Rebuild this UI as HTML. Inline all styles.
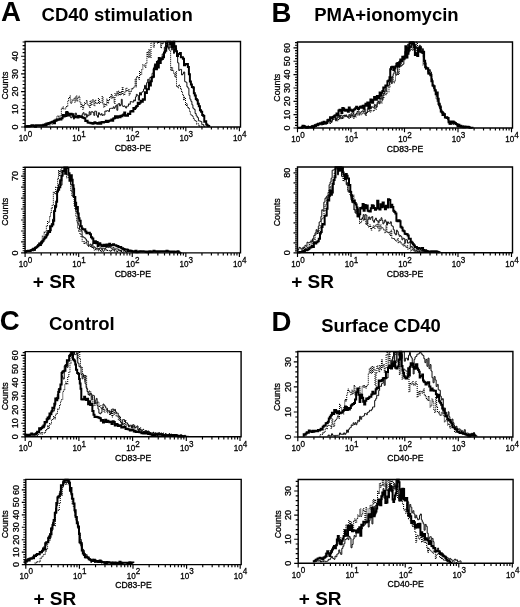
<!DOCTYPE html>
<html><head><meta charset="utf-8"><style>
html,body{margin:0;padding:0;background:#fff;width:520px;height:607px;overflow:hidden}
svg{display:block;will-change:transform;font-family:"Liberation Sans", sans-serif;fill:#000}
text{fill:#000} .s{stroke:#000;stroke-width:0.3px}
</style></head><body>
<svg width="520" height="607" viewBox="0 0 520 607"><rect width="520" height="607" fill="#fff"/><g><path d="M49.5 125H50.5V123.52H51.5V123.88H52.5V120.82H53.5V123.06H54.5V119.33H55.65V120.27H56.8V116.37H57.95V116.11H59.1V117.01H60.23V115.89H61.37V108.12H62.5V107.08H63.38V108.65H64.25V109.08H65.12V107.8H66V106.42H66.88V106.22H67.75V100.32H68.62V97.43H69.5V96.07H70.38V103.13H71.25V101.89H72.12V99.66H73V100.16H73.93V98.04H74.87V102.2H75.8V95.99H76.77V100.85H77.73V97.27H78.7V96.31H79.85V103H81V106.98H81.88V104.29H82.75V109.22H83.62V104.81H84.5V102.71H85.45V103.43H86.4V100.49H87.32V105.09H88.24V105.06H89.16V107.37H90.08V100.77H91V105.3H91.94V101.02H92.88V99.65H93.82V105.6H94.76V100.36H95.7V102.81H96.62V103.17H97.54V103.15H98.46V98.53H99.38V103.59H100.3V102.33H101.22V102.35H102.14V96.51H103.06V105.01H103.98V107.12H104.9V103.89H105.82V105.28H106.74V99.17H107.66V103.11H108.58V99.64H109.5V96.66H110.42V98.02H111.34V94.47H112.26V98.05H113.18V97.11H114.1V103.39H114.97V93.55H115.85V95.76H116.72V92.11H117.6V94.94H118.52V91.34H119.44V95.17H120.36V91.87H121.28V94.35H122.2V87.87H123.08V93.34H123.95V94.95H124.83V92.31H125.7V88.39H126.83V91.01H127.97V89.54H129.1V95.02H130.23V91.14H131.37V88.43H132.5V88.95H133.38V86.95H134.25V86.97H135.12V78.81H136V86.82H136.5V76.51H137.5V77.77H138.5V79.18H139.5V71.53H140.6V74.61H141.7V69.65H142.8V64.7H143.9V64.97H144.9V67.48H145.9V63.48H146.9V52.07H147.9V57.41H148.9V49.41H149.9V57.38H151V41.8H152.1V41.8H153.3V47.24H154.5V42.18H155.5V41.8H156.5V41.8H157.5V43.21H158.5V41.8H159.5V41.95H160.5V47.66H161.5V41.8H162.5V43.6H163.5V41.8H164.5V41.8H165.5V50.6H166.5V42.73H167.5V44.16H168.35V47.46H169.2V50.57H170.6V70.38H171.6V67.49H172.6V70.35H173.6V72.97H174.57V76.98H175.53V71.77H176.5V86.2H177.5V87.8H178.5V85.09H179.5V86.49H180.5V88.81H181.5V91.5H182.5V95.37H183.5V99.82H184.5V97.35H185.5V105.43H186.5V103.69H187.5V107.58H188.5V108.86H189.47V111.47H190.43V113.96H191.4V115.91H192.4V115.85H193.4V118.41H194.4V119.87H195.5V121.38H196.6V123.87H197.7V123.71H198.8V126.13H199.8V126.22H200.8V126.25H201.8V127" fill="none" stroke="#000" stroke-width="1.05" stroke-dasharray="1 1"/><path d="M24.5 126.5H25.5V126.62H26.5V126.26H27.5V126.15H28.5V126.12H29.5V126.54H30.5V126.49H31.5V125.78H32.5V125.63H33.5V126.22H34.5V126.6H35.5V125.7H36.5V125.93H37.5V125.61H38.5V125.72H39.5V125.98H40.5V125.12H41.5V125.42H42.5V125.44H43.5V125.15H44.5V123.64H45.5V124.65H46.5V125.06H47.5V124.08H48.5V124.2H49.5V122.66H50.5V122.32H51.5V121.71H52.5V122.54H53.5V120.03H54.5V120.39H55.5V121.19H56.5V119.05H57.5V120.63H58.5V120.23H59.5V119.02H60.55V119.64H61.6V117.86H62.65V115.29H63.7V115.77H64.58V115.18H65.45V112.28H66.33V115.95H67.2V111.59H68.08V114.25H68.95V113.73H69.83V116.29H70.7V117.92H71.62V116.79H72.54V114.23H73.46V119.09H74.38V115.72H75.3V113.08H76.35V115.14H77.4V117.29H78.45V115.34H79.5V117.1H80.42V117.08H81.34V115.76H82.26V113.83H83.18V112.62H84.1V115.09H85.25V113.84H86.4V117.16H87.32V114.87H88.24V115.71H89.16V111.72H90.08V114.68H91V111.86H91.94V111.75H92.88V112.54H93.82V115.39H94.76V111.12H95.7V111.36H96.62V115.45H97.54V117.22H98.46V112.68H99.38V114.27H100.3V115.03H101.22V113.69H102.14V115.49H103.06V114.81H103.98V115.06H104.9V111H105.82V111.3H106.74V110.57H107.66V110.69H108.58V111.55H109.5V108.67H110.42V108.36H111.34V108.25H112.26V108.53H113.18V106.87H114.1V108.29H115.02V106.72H115.94V105.08H116.86V110.26H117.78V104.14H118.7V103.47H119.58V105.96H120.45V104.58H121.33V99.31H122.2V105.86H123.08V106.54H123.95V105.89H124.83V106.73H125.7V108.05H126.62V106.25H127.54V106.2H128.46V103.89H129.38V104.29H130.3V101.55H131.43V101.84H132.57V102.14H133.7V99.93H134.57V100.91H135.45V96.96H136.32V94.36H137.2V95.29H138.35V100.15H139.5V92.54H140.5V95.12H141.5V92.3H142.5V91.5H143.5V89.08H144.5V85.32H145.5V89.16H146.6V82.68H147.7V79.31H148.8V82.08H149.9V77.42H151V77.27H152.1V73.24H153.2V68.83H154.3V65.5H155.3V66.16H156.3V64.17H157.3V60.56H158.3V62.77H159.3V59.14H160.3V60.2H161.27V57.19H162.23V54H163.2V53.68H164.35V47.12H165.5V41.8H166.43V41.8H167.35V46.8H168.27V48.91H169.2V42.55H170.27V41.8H171.35V49.92H172.43V41.8H173.5V53.38H174.5V49.09H175.5V45.46H176.5V53.83H177.65V62.87H178.8V70.52H179.73V69.43H180.65V69.4H181.57V74.96H182.5V73.94H183.6V71.99H184.7V81.67H185.8V82.25H186.9V86.76H187.9V88.14H188.9V95.35H189.9V99.16H190.9V101.36H191.9V104.8H192.9V108.24H194V109.38H195.1V113.52H196.2V115.97H197.3V117.59H198.43V120.8H199.55V121.05H200.68V121.64H201.8V124.53H202.77V124.54H203.73V126.21H204.7V127" fill="none" stroke="#111" stroke-width="1" stroke-linejoin="round"/><path d="M24.5 126.5H25.42V126.47H26.34V126.24H27.26V126.04H28.18V126.49H29.1V126.35H30.25V126.06H31.4V125.23H32.27V125.29H33.15V125.45H34.02V126.08H34.9V126.64H36.03V125.22H37.17V125.39H38.3V125.14H39.3V125.57H40.3V125.48H41.3V125.22H42.3V125.75H43.3V124.83H44.3V124.85H45.3V125.62H46.4V123.59H47.5V124.15H48.44V123.07H49.38V123.16H50.32V122.6H51.26V122.23H52.2V121.7H53.12V121.95H54.04V123.25H54.96V120.84H55.88V120.61H56.8V119.48H57.67V119.53H58.55V119.62H59.42V118.7H60.3V119.57H61.43V118.23H62.57V114.88H63.7V116.53H64.58V115.26H65.45V115.92H66.33V111.97H67.2V113.18H68.08V115.59H68.95V113.71H69.83V114.66H70.7V113.77H71.62V114.43H72.54V114.29H73.46V116.63H74.38V117.28H75.3V116.38H76.4V116.78H77.5V117.57H78.5V116.06H79.5V116.81H80.5V116.38H81.5V116.89H82.25V117.43H83V117.76H84.15V118.24H85.3V121.01H86.45V120.74H87.6V122.39H88.58V122.85H89.55V122.69H90.53V123.26H91.51V123.06H92.48V123.78H93.46V123.37H94.44V122.33H95.42V122.9H96.39V123.19H97.37V123.76H98.35V123.06H99.32V122.6H100.3V123.84H101.22V122.37H102.14V121.9H103.06V122.51H103.98V122.05H104.9V121.9H105.82V120.69H106.74V121.94H107.66V121.81H108.58V121.1H109.5V120.43H110.42V120.47H111.34V119.54H112.26V120.67H113.18V118.6H114.1V118.17H115.02V116.37H115.94V117.71H116.86V117.82H117.78V116.2H118.7V116.38H119.62V117.31H120.54V115.83H121.46V116.28H122.38V115.29H123.3V114.59H124.24V112.58H125.18V115.68H126.12V115.33H127.06V115.87H128V113.81H129.12V114.08H130.25V111.45H131.38V110.97H132.5V111.42H133.38V107.96H134.25V108.94H135.12V107.81H136V106.54H136.88V106.03H137.75V102.77H138.62V103.88H139.5V102.67H140.6V100.73H141.7V101.85H142.8V99.14H143.9V99.82H144.9V92.31H145.9V92.91H146.9V89.35H147.9V89.18H148.9V82.98H149.9V85.47H150.87V81.36H151.83V77.13H152.8V76.65H153.95V68.5H155.1V64.39H156.03V69.15H156.95V62.05H157.88V67.49H158.8V58.1H159.77V62.97H160.73V59.61H161.7V58.9H162.85V57.25H164V52.55H165.1V50.84H166.2V46.57H167.2V41.8H168.2V41.8H169.2V41.8H170.27V44.1H171.35V46.93H172.43V42.85H173.5V41.8H174.3V46.57H175.1V49.16H176.07V51.29H177.03V55.94H178V54.12H178.95V53.88H179.9V53.08H180.85V57.19H181.8V57.19H182.9V58.74H184V65.22H185.1V64.28H186.2V63.9H186.9V63.93H187.9V66.95H188.9V74.26H189.9V81.54H190.9V84.46H191.9V86.88H192.9V87.54H193.87V93.31H194.83V95.59H195.8V99.08H196.8V100.29H197.8V103.83H198.8V106.15H199.93V110.25H201.05V111.85H202.18V115.12H203.3V115.96H204.27V121.67H205.23V121.31H206.2V124.49H207.2V125.51H208.2V126.08H209.2V127" fill="none" stroke="#000" stroke-width="2" stroke-linejoin="miter"/><path d="M25.1 127 V41.5 H240.5 V127 Z" fill="none" stroke="#000" stroke-width="1.4"/><path d="M25.1 127v4.2 M41.23 127v2.6 M50.66 127v2.6 M57.36 127v2.6 M62.55 127v2.6 M66.79 127v2.6 M70.38 127v2.6 M73.48 127v2.6 M76.22 127v2.6 M78.68 127v4.2 M94.8 127v2.6 M104.24 127v2.6 M110.93 127v2.6 M116.12 127v2.6 M120.36 127v2.6 M123.95 127v2.6 M127.06 127v2.6 M129.8 127v2.6 M132.25 127v4.2 M148.38 127v2.6 M157.81 127v2.6 M164.51 127v2.6 M169.7 127v2.6 M173.94 127v2.6 M177.53 127v2.6 M180.63 127v2.6 M183.37 127v2.6 M185.83 127v4.2 M201.95 127v2.6 M211.39 127v2.6 M218.08 127v2.6 M223.27 127v2.6 M227.51 127v2.6 M231.1 127v2.6 M234.21 127v2.6 M236.95 127v2.6 M239.4 127v4.2 M25.1 127h-4.0 M25.1 123.46h-2.5 M25.1 119.92h-2.5 M25.1 116.38h-2.5 M25.1 112.84h-2.5 M25.1 109.3h-4.0 M25.1 105.76h-2.5 M25.1 102.22h-2.5 M25.1 98.68h-2.5 M25.1 95.14h-2.5 M25.1 91.6h-4.0 M25.1 88.06h-2.5 M25.1 84.52h-2.5 M25.1 80.98h-2.5 M25.1 77.44h-2.5 M25.1 73.9h-4.0 M25.1 70.36h-2.5 M25.1 66.82h-2.5 M25.1 63.28h-2.5 M25.1 59.74h-2.5 M25.1 56.2h-4.0 M25.1 52.66h-2.5 M25.1 49.12h-2.5 M25.1 45.58h-2.5 M25.1 42.04h-2.5" stroke="#000" stroke-width="1.15"/><text transform="translate(25.5 141.3) scale(0.87 1)" text-anchor="middle" font-size="9.3" class="s">10<tspan dy="-4.6">0</tspan></text><text transform="translate(79.08 141.3) scale(0.87 1)" text-anchor="middle" font-size="9.3" class="s">10<tspan dy="-4.6">1</tspan></text><text transform="translate(132.65 141.3) scale(0.87 1)" text-anchor="middle" font-size="9.3" class="s">10<tspan dy="-4.6">2</tspan></text><text transform="translate(186.23 141.3) scale(0.87 1)" text-anchor="middle" font-size="9.3" class="s">10<tspan dy="-4.6">3</tspan></text><text transform="translate(239.8 141.3) scale(0.87 1)" text-anchor="middle" font-size="9.3" class="s">10<tspan dy="-4.6">4</tspan></text><text x="132.8" y="150.8" text-anchor="middle" font-size="8.6" class="s">CD83-PE</text><text transform="translate(18 127) rotate(-90)" text-anchor="middle" font-size="9" class="s">0</text><text transform="translate(18 109.3) rotate(-90)" text-anchor="middle" font-size="9" class="s">10</text><text transform="translate(18 91.6) rotate(-90)" text-anchor="middle" font-size="9" class="s">20</text><text transform="translate(18 73.9) rotate(-90)" text-anchor="middle" font-size="9" class="s">30</text><text transform="translate(18 56.2) rotate(-90)" text-anchor="middle" font-size="9" class="s">40</text><text transform="translate(7.6 85.6) rotate(-90)" text-anchor="middle" font-size="8.8" class="s">Counts</text></g><g><path d="M29.5 251.5H30.5V249.9H31.5V250.72H32.5V250.78H33.5V250.12H34.5V250.18H35.5V248.43H36.5V247.69H37.5V244.78H38.5V245.99H39.5V243.61H40.42V242.61H41.34V241.08H42.26V236.31H43.18V236.39H44.1V232.37H45.23V231.87H46.37V225.81H47.5V221.57H48.7V222.29H49.6V216.65H50.5V212.48H51.35V207.94H52.2V205.43H53.35V192.39H54.5V193.6H55.65V187.26H56.8V187.43H57.65V178.36H58.5V170.41H59.25V176H60V170.03H60.88V172.61H61.75V167.6H62.62V167.6H63.5V167.6H64.5V167.6H65.5V169.79H66.5V177.78H67.5V177.26H68.5V174.18H69.6V177.25H70.7V190.42H71.8V195.37H72.95V196.23H74.1V205.06H74.95V209.86H75.8V216.65H76.65V222.16H77.5V227.74H78.7V231.23H79.9V233.43H81.03V236.4H82.17V241.26H83.3V241.62H84.1V243.92H85.02V242.97H85.94V242.64H86.86V245.15H87.78V245.83H88.7V246.48H89.7V246.59H90.7V247.11H91.7V246.8H92.7V248.36H93.7V250.06H94.7V249.35H95.7V249.55H96.67V249.81H97.64V249.01H98.61V250.74H99.59V250.58H100.56V250.89H101.53V251.21H102.5V250.12H103.5V251.17H104.5V250.23H105.5V249.91H106.5V249.74H107.5V250.39H108.5V250.7H109.5V251.26H110.5V250.32H111.5V250.71H112.5V249.41H113.5V250.57H114.5V250.89H115.5V251.14H116.5V251.65H117.5V251.32H118.5V250.66H119.5V250.46H120.5V251.03H121.5V252.19H122.5V252.28H123.5V250.2H124.5V250.17H125.5V251.5H126.5V252.17H127.5V251.33H128.5V251.15H129.5V251.17H130.5V251.27H131.5V251.39H132.5V251.85H133.5V251.98H134.5V251.62H135.5V251.75H136.5V251.75H137.5V252.54H138.5V251.87H139.5V252" fill="none" stroke="#000" stroke-width="1.05" stroke-dasharray="1 1"/><path d="M24.5 252H25.5V252.6H26.5V251.08H27.5V251.19H28.5V251.37H29.5V250.5H30.5V250.78H31.5V250.21H32.5V249.52H33.5V249.6H34.5V249.92H35.5V248.07H36.5V246.73H37.5V245.68H38.5V244.92H39.5V243.25H40.5V241.58H41.5V243.08H42.5V241.09H43.5V239.4H44.38V238.89H45.25V238.43H46.12V237.01H47V235.51H48V231.46H49V230.69H50V230.99H51.25V223.62H52.5V219.23H53.5V211.48H54.5V205.83H55.5V207.93H56.5V199.78H57.5V188.36H58.5V184.33H59.75V180.41H61V185.17H62V175.56H63V170.37H64.25V170.89H65.5V167.6H66.5V174.59H67.5V175.17H68.5V174.45H69.5V179.29H70.5V184.28H71.5V184.91H72.25V192.33H73V197.25H73.75V196.87H74.5V206.27H75.25V204.38H76V211.7H77V213.58H78V223.63H78.75V225.5H79.5V229.76H80.38V229.73H81.25V231.13H82.12V236.31H83V237.03H84.13V237.78H85.27V239.07H86.4V241.24H87.32V241.01H88.24V245.34H89.16V245.21H90.08V244.12H91V245.93H91.97V244.16H92.93V247.19H93.9V246.83H94.87V247.79H95.83V248.57H96.8V247.91H97.75V248.63H98.7V249.49H99.65V247.93H100.6V248.23H101.55V249.6H102.5V248.39H103.47V248.32H104.43V249.38H105.4V247.86H106.37V247.46H107.33V246.48H108.3V247.57H109.27V246.44H110.23V247.66H111.2V248.27H112.17V248.14H113.13V247.58H114.1V250.03H115.14V248.89H116.17V248.91H117.21V248.98H118.25V249.58H119.28V250.7H120.32V250.99H121.35V249.86H122.39V249.83H123.43V249.82H124.46V251.2H125.5V251.45H126.5V251.62H127.5V251.18H128.5V250.37H129.5V251.2H130.5V251.02H131.5V250.47H132.5V251.74H133.5V251.36H134.5V251.76H135.5V251.34H136.5V251.46H137.5V251.2H138.5V250.94H139.5V251.18H140.5V251.13H141.5V252.06H142.5V251.81H143.5V251.29H144.5V251.55H145.5V251.78H146.5V251.21H147.5V251.69H148.5V251.84H149.5V251.58H150.5V251.79H151.5V251.76H152.5V251.99H153.5V251.33H154.5V251.38H155.5V251.68H156.5V252.06H157.5V252.01H158.5V251.78H159.5V252" fill="none" stroke="#111" stroke-width="1" stroke-linejoin="round"/><path d="M24.5 252H25.7V251.16H26.85V250.91H28V250.75H29.13V251.1H30.27V250.41H31.4V250.07H32.27V249.51H33.15V248.87H34.02V249.85H34.9V247.67H36.03V247.18H37.17V246.16H38.3V245.27H39.17V243.54H40.05V245.08H40.92V243.27H41.8V241.78H42.67V240.77H43.55V239.28H44.42V237.4H45.3V237.25H46.27V234.91H47.23V233.6H48.2V230.99H49.13V231.97H50.07V226.34H51V226.34H52.15V224.47H53.3V220.68H54.2V211.08H55.1V206.06H56.2V201.87H57.1V191.4H58V189.64H59.15V187.14H60.3V180.33H61.4V175.72H62.5V171.05H63.4V170.88H64.3V167.6H65.15V173.87H66V167.6H67.2V168.11H68.35V173.32H69.5V180.75H70.65V175.23H71.8V179.73H72.65V185.22H73.5V188.78H74.1V197.01H75.3V202.71H76.15V208.87H77V207.03H77.85V213.52H78.7V218.18H79.5V220.72H80.65V226.17H81.8V228.5H82.67V229.24H83.55V229.44H84.42V229.23H85.3V231.43H86.43V233.14H87.57V232.66H88.7V232.64H89.85V234.28H91V237.26H92.15V238.42H93.3V242.89H94.17V241.62H95.05V241.37H95.92V243.23H96.8V242.07H97.67V245.93H98.55V243.9H99.42V243.14H100.3V244.73H101.43V246.14H102.57V245.4H103.7V244.87H104.62V245.88H105.54V246.14H106.46V244.62H107.38V245.16H108.3V245.67H109.24V243.82H110.18V245.87H111.12V245.15H112.06V245.06H113V244.33H114.12V245.37H115.25V245.34H116.38V246.22H117.5V245.94H118.44V247.01H119.38V247.24H120.32V246.89H121.26V248.14H122.2V248.21H123.17V248.98H124.13V249.2H125.1V249.43H126.07V249.46H127.03V249.84H128V250.93H129.12V250.62H130.25V250.66H131.38V251.42H132.5V251.28H133.5V251.76H134.5V251.72H135.5V250.75H136.5V252.3H137.5V252.08H138.5V251.68H139.5V251.4H140.5V251.32H141.5V251.19H142.5V251.26H143.5V251.62H144.5V251.6H145.5V251.89H146.5V251.76H147.5V252.15H148.5V251.38H149.5V251.32H150.5V251.95H151.5V251.72H152.5V251.52H153.5V250.76H154.5V251.3H155.5V251.79H156.5V251.6H157.5V251.19H158.5V251.63H159.5V251.35H160.5V251.31H161.5V251.55H162.5V251.53H163.5V251.17H164.5V251.39H165.5V251.54H166.5V250.64H167.5V251.2H168.5V251.51H169.5V251.5H170.5V252H171.5V251.46H172.5V251.97H173.5V251.51H174.5V252.11H175.5V251.85H176.5V251.7H177.5V251.33H178.5V252.27H179.5V252.46H180.5V252" fill="none" stroke="#000" stroke-width="2" stroke-linejoin="miter"/><path d="M25.1 252.9 V167.3 H240.5 V252.9 Z" fill="none" stroke="#000" stroke-width="1.4"/><path d="M25.1 252.9v4.2 M41.23 252.9v2.6 M50.66 252.9v2.6 M57.36 252.9v2.6 M62.55 252.9v2.6 M66.79 252.9v2.6 M70.38 252.9v2.6 M73.48 252.9v2.6 M76.22 252.9v2.6 M78.68 252.9v4.2 M94.8 252.9v2.6 M104.24 252.9v2.6 M110.93 252.9v2.6 M116.12 252.9v2.6 M120.36 252.9v2.6 M123.95 252.9v2.6 M127.06 252.9v2.6 M129.8 252.9v2.6 M132.25 252.9v4.2 M148.38 252.9v2.6 M157.81 252.9v2.6 M164.51 252.9v2.6 M169.7 252.9v2.6 M173.94 252.9v2.6 M177.53 252.9v2.6 M180.63 252.9v2.6 M183.37 252.9v2.6 M185.83 252.9v4.2 M201.95 252.9v2.6 M211.39 252.9v2.6 M218.08 252.9v2.6 M223.27 252.9v2.6 M227.51 252.9v2.6 M231.1 252.9v2.6 M234.21 252.9v2.6 M236.95 252.9v2.6 M239.4 252.9v4.2 M25.1 252.9h-4.0 M25.1 250.71h-2.5 M25.1 248.51h-2.5 M25.1 246.32h-2.5 M25.1 244.12h-2.5 M25.1 241.93h-4.0 M25.1 239.74h-2.5 M25.1 237.54h-2.5 M25.1 235.35h-2.5 M25.1 233.15h-2.5 M25.1 230.96h-4.0 M25.1 228.77h-2.5 M25.1 226.57h-2.5 M25.1 224.38h-2.5 M25.1 222.18h-2.5 M25.1 219.99h-4.0 M25.1 217.8h-2.5 M25.1 215.6h-2.5 M25.1 213.41h-2.5 M25.1 211.21h-2.5 M25.1 209.02h-4.0 M25.1 206.83h-2.5 M25.1 204.63h-2.5 M25.1 202.44h-2.5 M25.1 200.24h-2.5 M25.1 198.05h-4.0 M25.1 195.86h-2.5 M25.1 193.66h-2.5 M25.1 191.47h-2.5 M25.1 189.27h-2.5 M25.1 187.08h-4.0 M25.1 184.89h-2.5 M25.1 182.69h-2.5 M25.1 180.5h-2.5 M25.1 178.3h-2.5 M25.1 176.11h-4.0 M25.1 173.92h-2.5 M25.1 171.72h-2.5 M25.1 169.53h-2.5 M25.1 167.33h-2.5" stroke="#000" stroke-width="1.15"/><text transform="translate(25.5 267.2) scale(0.87 1)" text-anchor="middle" font-size="9.3" class="s">10<tspan dy="-4.6">0</tspan></text><text transform="translate(79.08 267.2) scale(0.87 1)" text-anchor="middle" font-size="9.3" class="s">10<tspan dy="-4.6">1</tspan></text><text transform="translate(132.65 267.2) scale(0.87 1)" text-anchor="middle" font-size="9.3" class="s">10<tspan dy="-4.6">2</tspan></text><text transform="translate(186.23 267.2) scale(0.87 1)" text-anchor="middle" font-size="9.3" class="s">10<tspan dy="-4.6">3</tspan></text><text transform="translate(239.8 267.2) scale(0.87 1)" text-anchor="middle" font-size="9.3" class="s">10<tspan dy="-4.6">4</tspan></text><text x="132.8" y="276.7" text-anchor="middle" font-size="8.6" class="s">CD83-PE</text><text transform="translate(18 252.9) rotate(-90)" text-anchor="middle" font-size="9" class="s">0</text><text transform="translate(18 176.11) rotate(-90)" text-anchor="middle" font-size="9" class="s">70</text><text transform="translate(7.6 211.8) rotate(-90)" text-anchor="middle" font-size="8.8" class="s">Counts</text></g><g><path d="M299.5 127.5H300.5V126.7H301.5V127.43H302.5V127.65H303.5V127.46H304.5V127.66H305.5V126.9H306.5V127H307.5V126.1H308.5V127.05H309.5V126.43H310.5V126.78H311.5V126.89H312.5V125.77H313.5V126.47H314.5V125.65H315.5V126.53H316.5V125.45H317.5V125.02H318.5V125.75H319.5V124.93H320.5V124.6H321.5V124.34H322.5V124.73H323.5V121.93H324.5V123.69H325.5V122.37H326.5V123.13H327.5V122.05H328.5V121.33H329.5V123.36H330.5V121.67H331.5V122.27H332.5V118.97H333.5V119.43H334.5V116.96H335.5V117.99H336.5V119.12H337.53V120.75H338.57V119.08H339.6V116.23H340.63V115.01H341.67V118.47H342.7V118.28H343.72V114.95H344.73V115.67H345.75V115.46H346.77V116.48H347.78V117.3H348.8V118.28H349.83V117.51H350.87V115.43H351.9V115.76H352.93V118.22H353.97V115.89H355V117.06H356.02V114.67H357.03V112.96H358.05V115.26H359.07V115.01H360.08V114.7H361.1V113.84H362.13V113.48H363.17V111.5H364.2V113.2H365.23V115.49H366.27V112.48H367.3V111.37H368.32V111.17H369.33V108.07H370.35V111.99H371.37V110.71H372.38V110.78H373.4V110.93H374.35V106.5H375.3V109.11H376.25V105.09H377.2V103.11H378.16V101.1H379.12V102.15H380.09V101.98H381.05V102.89H382.01V97.81H382.97V98.08H383.94V91.12H384.9V94.73H385.92V93.43H386.93V91.85H387.95V91.75H388.97V87.35H389.98V80.96H391V76.9H392.12V77.85H393.25V82.75H394.38V81.2H395.5V65.37H396.46V63.56H397.42V71.08H398.38V74.35H399.34V66.83H400.3V63.98H401.37V61.6H402.43V59.82H403.5V58.28H404.62V59.77H405.75V58.67H406.88V52.99H408V51.85H409V47.12H410V50.8H411.25V42.38H412.5V50.29H413.5V42.72H414.5V53.3H415.5V53.47H416.5V42.3H417.5V53.19H418.5V47.99H419.5V51.55H420.5V48.21H421.75V48.23H423V64.99H423.75V61.23H424.5V64.35H425.5V69.29H426.5V68.32H427.5V71.63H428.5V70.44H429.5V72.66H430.5V72.84H431.75V81.37H433V84.76H434V88.39H435V89.87H436V98.76H437V100.85H438V105.27H439V103.62H440V107.4H441V113.15H442V115.23H443V112.86H444V115.59H445V117.78H446.12V116.49H447.25V117.35H448.38V121.41H449.5V123.39H450.5V124.2H451.5V123.25H452.5V123.97H453.5V124.31H454.5V123.58H455.5V123.12H456.5V124.65H457.5V125.27H458.5V125.42H459.5V125.66H460.5V126.72H461.5V126.23H462.5V125.92H463.5V127.41H464.5V127.7H465.5V126.78H466.5V126.8H467.5V127.52H468.5V127.44H469.5V127.67H470.5V127.67H471.5V127.58H472.5V128" fill="none" stroke="#000" stroke-width="1.05" stroke-dasharray="1 1"/><path d="M299.5 127.5H300.5V127.7H301.5V126.86H302.5V127.02H303.5V127.24H304.5V126.59H305.5V127.05H306.5V126.81H307.5V126.49H308.5V126.75H309.5V127.15H310.5V126.22H311.5V125.67H312.5V125.33H313.5V125.18H314.5V124.44H315.5V124.04H316.5V125.53H317.5V124.91H318.5V124.29H319.5V124.51H320.5V124.76H321.5V124.45H322.5V124.09H323.5V122.74H324.5V123.25H325.5V124.21H326.5V121.84H327.5V121.12H328.5V119.48H329.5V118.95H330.5V122.06H331.5V120.44H332.5V116.98H333.5V116.89H334.5V117.05H335.5V120.87H336.5V118.16H337.53V117.32H338.57V117.71H339.6V115.16H340.63V118.66H341.67V118.11H342.7V115.71H343.72V116.11H344.73V116.6H345.75V114.96H346.77V116.69H347.78V117.22H348.8V114.6H349.83V117.15H350.87V113.71H351.9V115.84H352.93V113.52H353.97V116.95H355V114.4H356.02V113.53H357.03V111.57H358.05V110.87H359.07V114.12H360.08V112.78H361.1V111.64H362.13V110.89H363.17V111.31H364.2V109.35H365.23V114.2H366.27V112.43H367.3V108.87H368.4V109.47H369.5V104.06H370.46V108.76H371.43V106.61H372.39V107.3H373.35V107.7H374.31V104.6H375.27V105.66H376.24V107.12H377.2V102.25H378.16V101.47H379.12V103.78H380.09V98.72H381.05V97.75H382.01V100.12H382.97V94.88H383.94V92.93H384.9V89.29H385.82V91.25H386.74V85.03H387.66V86.11H388.58V85.35H389.5V82.03H390.42V76.89H391.34V83.56H392.26V76.37H393.18V73.83H394.1V71.45H395.02V71.93H395.94V75.11H396.86V74.43H397.78V66.17H398.7V63.52H399.73V60.56H400.77V66.08H401.8V65.02H402.83V64.15H403.87V59.08H404.9V51.3H405.82V54.66H406.74V50.85H407.66V44.15H408.58V51.4H409.5V45.89H410.5V47.77H411.5V42.8H412.5V45.19H413.5V44.32H414.5V44.2H415.5V48.29H416.5V47.07H417.5V54.48H418.43V51.09H419.37V45.24H420.3V46.3H421.4V51.17H422.5V48.83H423.3V57.19H424.1V62.51H425.13V62.75H426.17V66.99H427.2V69.15H428.23V73.01H429.27V69.58H430.3V71.96H431.4V78.8H432.5V86.01H433.57V88.61H434.63V89.94H435.7V93.17H436.7V96.83H437.7V101.29H438.7V105.87H439.73V109.01H440.77V109.51H441.8V111.69H442.83V112.72H443.87V113.01H444.9V117.35H445.82V118.15H446.74V118.36H447.66V120.03H448.58V121.54H449.5V124.18H450.53V123.53H451.57V122.91H452.6V124.18H453.63V122.29H454.67V124.12H455.7V124.23H456.62V125.1H457.54V124.36H458.46V125.16H459.38V126.43H460.3V127.02H461.33V127.08H462.37V126.32H463.4V126.74H464.43V127.06H465.47V127.49H466.5V127.36H467.5V127.14H468.5V127.35H469.5V127.36H470.5V127.7H471.5V127.48H472.5V128" fill="none" stroke="#111" stroke-width="1" stroke-linejoin="round"/><path d="M297 127.7H298.02V127.63H299.05V127.64H300.08V127.68H301.1V127.7H302.5V125.78H303.57V126.04H304.63V126.75H305.7V127.43H306.73V127.7H307.77V127.09H308.8V127.24H309.83V127.16H310.87V127.14H311.9V126.6H312.92V127.22H313.93V126.35H314.95V125.58H315.97V125.2H316.98V124.55H318V123.68H318.94V123.85H319.88V123.29H320.82V123.31H321.76V122.6H322.7V124.06H323.62V121.84H324.54V122.62H325.46V123.28H326.38V122.94H327.3V120.31H328.22V119.78H329.14V120.42H330.06V117.14H330.98V117.84H331.9V118.44H332.82V116.93H333.74V116.17H334.66V115.38H335.58V115.26H336.5V113.39H337.5V115.7H338.5V110.38H339.5V109.81H340.44V110.76H341.38V112.96H342.32V107.96H343.26V108.46H344.2V110.29H345.12V110.71H346.04V109.78H346.96V110.19H347.88V111.8H348.8V107.57H349.72V109.61H350.64V110.33H351.56V110.63H352.48V111.64H353.4V109.7H354.32V109.25H355.24V108.24H356.16V106.73H357.08V107.83H358V109H358.94V107.67H359.88V106.86H360.82V106.4H361.76V107.69H362.7V105.78H363.62V108.64H364.54V105.44H365.46V103.79H366.38V105.73H367.3V102.39H368.4V107.97H369.5V102.62H370.42V99.6H371.34V101.3H372.26V102.84H373.18V99.71H374.1V96.88H375.02V99.17H375.94V99.68H376.86V96.11H377.78V97.23H378.7V98.27H379.62V92.54H380.54V95.84H381.46V92.63H382.38V90.9H383.3V87.48H384.33V87.85H385.37V85.42H386.4V85.5H387.43V81.26H388.47V80.59H389.5V77.32H390.25V69.32H391V67.31H392.15V66.84H393.3V70.06H394.33V68.29H395.37V66.54H396.4V63.72H397.38V63.05H398.35V66.43H399.32V62.03H400.3V59.41H401.3V61.22H402.3V56.75H403.3V58.59H404.33V56.39H405.37V46.31H406.4V57.44H407.43V53.67H408.47V48.05H409.5V43.35H410.25V42.3H411V42.3H412.15V42.3H413.3V43.04H414.1V47.61H414.9V55.03H416.05V53.28H417.2V56.05H418.23V48.56H419.27V47.2H420.3V51.78H421.4V52.2H422.5V52.95H423.3V51.64H424.1V60.71H425.13V67.14H426.17V68.41H427.2V68.17H428.23V73.41H429.27V73.69H430.3V75.27H431.4V81.22H432.5V85.44H433.57V86.17H434.63V90.38H435.7V94.15H436.7V92.48H437.7V98.82H438.7V103.71H439.73V106.54H440.77V111.58H441.8V112.15H442.83V115.1H443.87V114.24H444.9V117.44H445.82V117.55H446.74V118.11H447.66V118.03H448.58V122.13H449.5V123.7H450.53V121.57H451.57V122.3H452.6V121.51H453.63V122.22H454.67V122.91H455.7V123.88H456.62V124.25H457.54V126.15H458.46V124.85H459.38V126.61H460.3V125.74H461.33V126.81H462.37V126.55H463.4V127.3H464.43V126.58H465.47V127.07H466.5V126.79H467.5V126.65H468.5V127.09H469.5V127.69H470.5V127.7H471.5V127.7H472.5V128" fill="none" stroke="#000" stroke-width="2" stroke-linejoin="miter"/><path d="M297.5 128 V42 H512.5 V128 Z" fill="none" stroke="#000" stroke-width="1.4"/><path d="M297.5 128v4.2 M313.61 128v2.6 M323.03 128v2.6 M329.71 128v2.6 M334.89 128v2.6 M339.13 128v2.6 M342.71 128v2.6 M345.82 128v2.6 M348.55 128v2.6 M351 128v4.2 M367.11 128v2.6 M376.53 128v2.6 M383.21 128v2.6 M388.39 128v2.6 M392.63 128v2.6 M396.21 128v2.6 M399.32 128v2.6 M402.05 128v2.6 M404.5 128v4.2 M420.61 128v2.6 M430.03 128v2.6 M436.71 128v2.6 M441.89 128v2.6 M446.13 128v2.6 M449.71 128v2.6 M452.82 128v2.6 M455.55 128v2.6 M458 128v4.2 M474.11 128v2.6 M483.53 128v2.6 M490.21 128v2.6 M495.39 128v2.6 M499.63 128v2.6 M503.21 128v2.6 M506.32 128v2.6 M509.05 128v2.6 M511.5 128v4.2 M297.5 128h-4.0 M297.5 125.33h-2.5 M297.5 122.66h-2.5 M297.5 119.99h-2.5 M297.5 117.32h-2.5 M297.5 114.65h-4.0 M297.5 111.98h-2.5 M297.5 109.31h-2.5 M297.5 106.64h-2.5 M297.5 103.97h-2.5 M297.5 101.3h-4.0 M297.5 98.63h-2.5 M297.5 95.96h-2.5 M297.5 93.29h-2.5 M297.5 90.62h-2.5 M297.5 87.95h-4.0 M297.5 85.28h-2.5 M297.5 82.61h-2.5 M297.5 79.94h-2.5 M297.5 77.27h-2.5 M297.5 74.6h-4.0 M297.5 71.93h-2.5 M297.5 69.26h-2.5 M297.5 66.59h-2.5 M297.5 63.92h-2.5 M297.5 61.25h-4.0 M297.5 58.58h-2.5 M297.5 55.91h-2.5 M297.5 53.24h-2.5 M297.5 50.57h-2.5 M297.5 47.9h-4.0 M297.5 45.23h-2.5 M297.5 42.56h-2.5" stroke="#000" stroke-width="1.15"/><text transform="translate(297.9 142.3) scale(0.87 1)" text-anchor="middle" font-size="9.3" class="s">10<tspan dy="-4.6">0</tspan></text><text transform="translate(351.4 142.3) scale(0.87 1)" text-anchor="middle" font-size="9.3" class="s">10<tspan dy="-4.6">1</tspan></text><text transform="translate(404.9 142.3) scale(0.87 1)" text-anchor="middle" font-size="9.3" class="s">10<tspan dy="-4.6">2</tspan></text><text transform="translate(458.4 142.3) scale(0.87 1)" text-anchor="middle" font-size="9.3" class="s">10<tspan dy="-4.6">3</tspan></text><text transform="translate(511.9 142.3) scale(0.87 1)" text-anchor="middle" font-size="9.3" class="s">10<tspan dy="-4.6">4</tspan></text><text x="405" y="151.8" text-anchor="middle" font-size="8.6" class="s">CD83-PE</text><text transform="translate(290.4 128) rotate(-90)" text-anchor="middle" font-size="9" class="s">0</text><text transform="translate(290.4 114.65) rotate(-90)" text-anchor="middle" font-size="9" class="s">10</text><text transform="translate(290.4 101.3) rotate(-90)" text-anchor="middle" font-size="9" class="s">20</text><text transform="translate(290.4 87.95) rotate(-90)" text-anchor="middle" font-size="9" class="s">30</text><text transform="translate(290.4 74.6) rotate(-90)" text-anchor="middle" font-size="9" class="s">40</text><text transform="translate(290.4 61.25) rotate(-90)" text-anchor="middle" font-size="9" class="s">50</text><text transform="translate(290.4 47.9) rotate(-90)" text-anchor="middle" font-size="9" class="s">60</text><text transform="translate(280 87.7) rotate(-90)" text-anchor="middle" font-size="8.8" class="s">Counts</text></g><g><path d="M299 251.5H299.92V252H300.83V250.87H301.75V250.08H302.67V249.02H303.58V248.34H304.5V247.53H305.42V248.97H306.34V247.36H307.26V247.26H308.18V247.79H309.1V244.52H310.15V244.05H311.2V240.17H312.25V244.23H313.3V239.12H314.2V239.64H315.1V234.21H316V233.46H317V230.79H318V233.51H319V227.72H320.25V225.44H321.5V219.3H322.75V217.79H324V211.37H325V204.9H326V204.04H327V196.34H328V194.93H329V189.76H330V186.42H331V189.22H332V182.14H333V180.06H334.25V172.26H335.5V169.16H336.75V167.3H338V167.3H339.25V167.3H340.5V167.3H341.75V167.3H343V181.02H344V177.96H345V179.41H346.25V183.9H347.5V190.81H348.75V190.35H350V195.86H351V197.01H352V201.99H353V195.32H354V209.45H355V211.14H356V213.92H356.88V207.72H357.75V209.19H358.62V214.43H359.5V223.37H360.53V222.73H361.57V218.59H362.6V219.89H363.63V219.03H364.67V219.68H365.7V224.51H366.72V223.5H367.73V225.4H368.75V227.11H369.77V225.04H370.78V229.91H371.8V227.21H372.83V225.96H373.87V228.43H374.9V225.22H375.93V224.45H376.97V227.69H378V221.93H379.02V230.94H380.03V224.94H381.05V228.68H382.07V227.44H383.08V229.77H384.1V230.29H385.02V232.67H385.94V225.98H386.86V232.33H387.78V232.99H388.7V231.96H389.73V235.49H390.77V230.33H391.8V238H392.72V238.44H393.64V239.12H394.56V239.53H395.48V240.92H396.4V240.99H397.32V238.46H398.24V242.64H399.16V241.27H400.08V242.62H401V242.98H401.94V244.82H402.88V245.98H403.82V243.29H404.76V245.51H405.7V247.45H406.72V245.77H407.73V248.99H408.75V248.3H409.77V248.35H410.78V251.04H411.8V249.31H412.83V249.97H413.87V250.79H414.9V252.28H415.93V251.26H416.97V250.82H418V251.74H418.96V251.5H419.92V251.28H420.88V252.32H421.83V251.57H422.79V251.98H423.75V251.36H424.71V251.6H425.67V252.5H426.62V251.58H427.58V252.5H428.54V252.5H429.5V252.3" fill="none" stroke="#000" stroke-width="1.05" stroke-dasharray="1 1"/><path d="M297 252H298V249.34H299V247.35H299.9V247.83H300.9V249.18H301.9V248.36H302.9V247.17H303.9V247.68H304.9V245.34H305.95V246.2H307V242.24H308.05V242.89H309.1V242.65H310.23V241.33H311.37V241.5H312.5V238.76H313.75V235.5H315V232.88H316.1V229.69H317.2V232.15H318.3V226.11H319.15V222.05H320V221.63H320.9V216.56H321.8V209.73H322.7V210.74H323.83V202.13H324.97V198.26H326.1V196.88H327.1V198.14H328.1V192.31H329.1V184.74H330.1V182.03H331.12V178.2H332.15V170.21H333.18V170.06H334.2V169.14H335.35V167.3H336.5V167.49H337.5V174.84H338.5V167.3H339.5V167.3H340.5V167.72H341.53V176.43H342.57V176.87H343.6V175.74H344.5V176.96H345.4V179.51H346.3V184.9H347.2V182.74H348.1V192.02H349V191.61H350V190.68H351V199.78H352V202.71H353V202.6H354.02V209.36H355.05V212.92H356.08V209.19H357.1V208.61H358.3V216.11H359.5V218.99H360.42V219.43H361.34V218.94H362.26V217.4H363.18V214.6H364.1V219.68H365.02V214.69H365.94V215.11H366.86V223.9H367.78V219.42H368.7V216.95H369.73V219.37H370.77V217.6H371.8V216.54H372.72V220.72H373.64V222.3H374.56V219.62H375.48V218.13H376.4V220.54H377.32V220.92H378.24V222.15H379.16V219.89H380.08V220.55H381V217.8H381.94V220.39H382.88V223.85H383.82V222.35H384.76V219.92H385.7V221.72H386.62V225.12H387.54V221.86H388.46V223.32H389.38V223.46H390.3V221.8H391.3V225.64H392.3V226.33H393.3V229.67H394.33V233.32H395.37V234.85H396.4V230.18H397.32V231.58H398.24V234.33H399.16V236.27H400.08V235.63H401V236.73H401.94V239.77H402.88V238.22H403.82V238.67H404.76V242.85H405.7V239.57H406.62V240.04H407.54V243.2H408.46V242.7H409.38V241.88H410.3V247.4H411.22V246.44H412.14V247.3H413.06V248.87H413.98V249.09H414.9V251.05H415.92V250.76H416.93V249.78H417.95V249.48H418.97V251.69H419.98V249.63H421V250.4H422.06V251.21H423.12V250.92H424.19V250.95H425.25V251.34H426.31V251.75H427.38V251.05H428.44V251.74H429.5V252" fill="none" stroke="#111" stroke-width="1" stroke-linejoin="round"/><path d="M297 252.3H298V252.41H299V252.21H300.25V252.01H301.5V251.96H302.63V251.32H303.77V250.92H304.9V249.8H306.03V250.32H307.17V249.73H308.3V249.02H309.4V247.69H310.5V247.23H311.6V245.89H312.73V246.89H313.87V242.3H315V243.56H316.25V242.33H317.5V241.15H318.75V238.78H320V233.4H320.85V232.12H321.7V226.96H322.55V223.9H323.4V224.42H324.65V215.69H325.9V215.57H326.7V208.67H327.5V200.11H328.37V200.46H329.23V195.86H330.1V190.4H331V194.82H331.9V192.58H332.8V183.92H333.7V179.93H334.6V177.26H335.5V167.3H336.9V167.3H337.9V168.52H338.9V170.66H339.9V167.3H340.9V169.85H341.9V167.81H342.9V172.47H343.6V174.85H345V179.03H345.87V174.08H346.73V175.87H347.6V178.55H349V184.93H350.3V192.12H351.2V195.3H352.1V200.57H353V201.56H353.9V200.59H354.8V202.9H355.7V204.54H356.6V207.39H357.5V216.29H358.4V216.62H359.3V214.22H360.2V208.11H361.1V208.47H361.85V207.47H362.6V203.89H363.63V210.7H364.67V204.88H365.7V208.27H366.7V205.48H367.7V210.78H368.7V211.36H369.73V211.62H370.77V208.17H371.8V205.33H372.83V205.82H373.87V208.02H374.9V209.84H376.05V208.5H377.2V200.75H378.35V208.38H379.5V209.46H380.53V204.22H381.57V207.18H382.6V202.57H383.75V206.4H384.9V209.17H385.93V205.7H386.97V207.51H388V199.29H389.15V199.9H390.3V207.24H391.3V204.63H392.3V206.91H393.3V210.85H394.33V211.96H395.37V213.6H396.4V220.7H397.43V221.14H398.47V220.2H399.5V221.27H400.53V226.67H401.57V227.76H402.6V230.45H403.63V231.35H404.67V233.85H405.7V234.04H406.7V234.17H407.7V235.56H408.7V238.87H409.73V238.74H410.77V241.78H411.8V242.86H412.83V244.23H413.87V245.52H414.9V247.24H415.92V247.01H416.93V248.47H417.95V247.92H418.97V248.6H419.98V248.14H421V248.63H422.03V247.92H423.07V249.95H424.1V250.87H425.12V250.16H426.14V251.02H427.17V251.3H428.19V251.67H429.21V251.54H430.23V251.78H431.26V251.14H432.28V251.49H433.3V251.19H434.33V251.64H435.37V251.26H436.4V251.58H437.43V251.88H438.47V252.19H439.5V252.3" fill="none" stroke="#000" stroke-width="2" stroke-linejoin="miter"/><path d="M297.5 252.8 V167 H512.5 V252.8 Z" fill="none" stroke="#000" stroke-width="1.4"/><path d="M297.5 252.8v4.2 M313.61 252.8v2.6 M323.03 252.8v2.6 M329.71 252.8v2.6 M334.89 252.8v2.6 M339.13 252.8v2.6 M342.71 252.8v2.6 M345.82 252.8v2.6 M348.55 252.8v2.6 M351 252.8v4.2 M367.11 252.8v2.6 M376.53 252.8v2.6 M383.21 252.8v2.6 M388.39 252.8v2.6 M392.63 252.8v2.6 M396.21 252.8v2.6 M399.32 252.8v2.6 M402.05 252.8v2.6 M404.5 252.8v4.2 M420.61 252.8v2.6 M430.03 252.8v2.6 M436.71 252.8v2.6 M441.89 252.8v2.6 M446.13 252.8v2.6 M449.71 252.8v2.6 M452.82 252.8v2.6 M455.55 252.8v2.6 M458 252.8v4.2 M474.11 252.8v2.6 M483.53 252.8v2.6 M490.21 252.8v2.6 M495.39 252.8v2.6 M499.63 252.8v2.6 M503.21 252.8v2.6 M506.32 252.8v2.6 M509.05 252.8v2.6 M511.5 252.8v4.2 M297.5 252.8h-4.0 M297.5 250.8h-2.5 M297.5 248.8h-2.5 M297.5 246.8h-2.5 M297.5 244.8h-2.5 M297.5 242.8h-4.0 M297.5 240.8h-2.5 M297.5 238.8h-2.5 M297.5 236.8h-2.5 M297.5 234.8h-2.5 M297.5 232.8h-4.0 M297.5 230.8h-2.5 M297.5 228.8h-2.5 M297.5 226.8h-2.5 M297.5 224.8h-2.5 M297.5 222.8h-4.0 M297.5 220.8h-2.5 M297.5 218.8h-2.5 M297.5 216.8h-2.5 M297.5 214.8h-2.5 M297.5 212.8h-4.0 M297.5 210.8h-2.5 M297.5 208.8h-2.5 M297.5 206.8h-2.5 M297.5 204.8h-2.5 M297.5 202.8h-4.0 M297.5 200.8h-2.5 M297.5 198.8h-2.5 M297.5 196.8h-2.5 M297.5 194.8h-2.5 M297.5 192.8h-4.0 M297.5 190.8h-2.5 M297.5 188.8h-2.5 M297.5 186.8h-2.5 M297.5 184.8h-2.5 M297.5 182.8h-4.0 M297.5 180.8h-2.5 M297.5 178.8h-2.5 M297.5 176.8h-2.5 M297.5 174.8h-2.5 M297.5 172.8h-4.0 M297.5 170.8h-2.5 M297.5 168.8h-2.5" stroke="#000" stroke-width="1.15"/><text transform="translate(297.9 267.1) scale(0.87 1)" text-anchor="middle" font-size="9.3" class="s">10<tspan dy="-4.6">0</tspan></text><text transform="translate(351.4 267.1) scale(0.87 1)" text-anchor="middle" font-size="9.3" class="s">10<tspan dy="-4.6">1</tspan></text><text transform="translate(404.9 267.1) scale(0.87 1)" text-anchor="middle" font-size="9.3" class="s">10<tspan dy="-4.6">2</tspan></text><text transform="translate(458.4 267.1) scale(0.87 1)" text-anchor="middle" font-size="9.3" class="s">10<tspan dy="-4.6">3</tspan></text><text transform="translate(511.9 267.1) scale(0.87 1)" text-anchor="middle" font-size="9.3" class="s">10<tspan dy="-4.6">4</tspan></text><text x="405" y="276.6" text-anchor="middle" font-size="8.6" class="s">CD83-PE</text><text transform="translate(290.4 252.8) rotate(-90)" text-anchor="middle" font-size="9" class="s">0</text><text transform="translate(290.4 172.8) rotate(-90)" text-anchor="middle" font-size="9" class="s">80</text><text transform="translate(280 212.3) rotate(-90)" text-anchor="middle" font-size="8.8" class="s">Counts</text></g><g><path d="M34.5 436H35.5V436.34H36.5V435.54H37.5V434.98H38.5V434.22H39.5V433.73H40.5V432.8H41.5V433.91H42.5V432.72H43.5V432.66H44.5V433.08H45.5V430.64H46.5V429.57H47.5V425.76H48.5V428.5H49.5V423.58H50.5V424.06H51.5V419.49H52.5V418.66H53.5V416.51H54.5V418.83H55.5V414.07H56.5V413.17H57.5V408.9H58.5V409.07H59.5V405.43H60.5V401.18H61.63V398.95H62.77V391.48H63.9V389.15H64.77V384.9H65.63V382.09H66.5V383.87H67.7V376.19H68.9V372.5H69.95V362.96H71V357.29H72V353.31H73V352.04H74V351.9H75V351.9H76V351.9H77V358.81H78V353.38H79V351.95H79.75V358.51H80.5V367.27H81.5V367.72H82.5V373.64H83.5V376.49H84.53V381.32H85.57V375.55H86.6V389.32H87.63V391.76H88.67V395.19H89.7V391.12H90.8V393.6H91.83V397.93H92.85V405.6H93.88V405.45H94.9V402.25H95.91V403.14H96.93V402.12H97.94V402.43H98.95V406.5H99.96V405.8H100.97V407.72H101.99V409.47H103V407.83H103.96V412.3H104.91V409.99H105.87V409.72H106.83V412.68H107.79V410.75H108.74V410.94H109.7V414.43H110.78V409.95H111.86V416.9H112.94V411.51H114.02V414.19H115.1V412.7H116.18V415.6H117.26V416.96H118.34V420.19H119.42V416.39H120.5V422.5H121.56V423.72H122.62V423.76H123.68V425.28H124.74V420.44H125.8V425.03H126.88V425.29H127.96V425.74H129.04V425.97H130.12V426.99H131.2V426.95H132.24V424.83H133.29V428.07H134.33V426.86H135.38V427.84H136.42V428.01H137.47V429.4H138.51V430.24H139.56V427.79H140.6V429.52H141.59V430.95H142.58V429.18H143.57V431.98H144.56V431.07H145.54V430.85H146.53V433.41H147.52V431.2H148.51V431.91H149.5V432.85H150.5V434.51H151.5V433.08H152.5V432.26H153.5V433.33H154.5V432.99H155.5V432.67H156.5V434.29H157.5V433.13H158.5V433.79H159.5V432.8H160.5V433.19H161.5V434.86H162.5V433.13H163.5V435.28H164.5V435.01H165.5V433.58H166.5V434.79H167.5V434.63H168.5V433.52H169.5V434.54H170.5V434.57H171.5V435.08H172.5V435.48H173.5V435.63H174.5V434.58H175.5V435.06H176.5V435.09H177.5V435.11H178.5V435.77H179.5V436.5H180.5V435.5" fill="none" stroke="#000" stroke-width="1.05" stroke-dasharray="1 1"/><path d="M24.5 435H25.5V435.1H26.5V435.44H27.5V435.27H28.5V435.91H29.5V435.45H30.5V434.79H31.5V435.01H32.5V433.71H33.5V434.68H34.5V433.25H35.4V433.26H36.3V432.92H37.2V432.21H38.1V432.34H39.13V430.59H40.17V429.15H41.2V428.09H42.33V426.29H43.45V427.81H44.58V424.34H45.7V422.44H46.65V422.18H47.6V419.58H48.55V415.91H49.5V416.94H50.45V412.31H51.4V410.51H52.35V410.2H53.3V411.11H54.3V406.32H55.3V400.34H56.3V397.4H57.3V394.42H58.3V388.69H59.3V388.14H60.45V384.72H61.6V375.72H62.35V377.24H63.1V379H64.25V365.83H65.4V367.17H66.15V365.18H66.9V367.29H68.05V361.71H69.2V354.58H70.35V352.07H71.5V351.9H72.5V352.88H73.5V351.9H74.5V354.64H75.5V354.25H76.5V353.3H77.75V363.17H79V366.76H80.03V366.91H81.07V374.49H82.1V378.77H83.1V375.5H84.1V375.45H85.1V383.7H86.1V387.71H87.1V391.67H88.1V394.69H89.13V394.72H90.17V393.61H91.2V399.81H92.35V395.28H93.5V395.69H94.4V404.07H95.3V400.3H96.2V398.41H97.1V405.6H98V409.09H98.9V413.19H99.93V413.77H100.95V412.57H101.97V407.95H103V404.06H103.9V405.18H104.8V406.3H105.7V408.1H106.57V408.3H107.43V410.86H108.3V410.77H109.2V412.15H110.1V414.24H111V412.52H111.9V409.1H112.8V409.03H113.7V410.84H114.6V409.38H115.5V411.81H116.4V413.16H117.3V413.12H118.2V415.98H119.1V416.45H120V419.38H120.9V422.76H121.8V424.52H122.7V419.52H123.6V419.62H124.5V420.84H125.5V422.88H126.5V422.86H127.5V424.21H128.5V426.82H129.53V425.26H130.55V425.22H131.57V428.16H132.6V425.09H133.68V425.24H134.76V427.65H135.84V426.98H136.92V425.97H138V430.61H139V429.4H140V429.84H141V431.02H142V430.85H143V432.62H144V432.34H145V431.21H146V430.88H147.01V433.57H148.03V431.05H149.04V432H150.05V433.18H151.06V432.96H152.07V433.15H153.09V433.78H154.1V434.45H155.08V433.35H156.05V434.07H157.03V435.49H158.01V432.89H158.98V434.22H159.96V433.91H160.94V433.21H161.92V433.76H162.89V434.25H163.87V434.39H164.85V434.39H165.82V434.34H166.8V434.64H167.78V434.63H168.76V435.61H169.74V434.74H170.71V434.01H171.69V435.7H172.67V434.55H173.65V435.39H174.63V435.34H175.61V435.83H176.59V435.85H177.56V435.57H178.54V435.45H179.52V435.29H180.5V434.58H181.5V435.28H182.5V435.74H183.5V435.66H184.5V435.31H185.5V435.97H186.5V436.38H187.5V436.23H188.5V436.5H189.5V436.5" fill="none" stroke="#111" stroke-width="1" stroke-linejoin="round"/><path d="M24.5 434.4H25.46V434.83H26.43V434.72H27.39V434.91H28.35V435.21H29.32V434.66H30.28V434.38H31.25V433.44H32.21V434.58H33.17V434.64H34.14V434.61H35.1V434.29H36.1V433.27H37.1V431.63H38.1V432.02H39.13V428.28H40.17V429.13H41.2V428.12H42.33V426.86H43.45V425.61H44.58V422.09H45.7V422.36H46.65V419.22H47.6V417.56H48.55V418.41H49.5V413.38H50.45V414.27H51.4V411.54H52.35V407.79H53.3V408.13H54.3V403.65H55.3V398.54H56.3V400.21H57.3V398.33H58.3V391.94H59.3V389.13H60.45V384.51H61.6V373.12H62.35V371.86H63.1V371.32H64.25V370.76H65.4V365.7H66.15V364.89H66.9V360.19H68.05V360.33H69.2V355.9H70.35V354.81H71.5V351.9H72.25V354.2H73V359.27H73.75V360H74.5V361.37H75.25V364.54H76V369.76H77.15V373.08H78.3V374.11H79.05V379.09H79.8V383.48H80.55V388.73H81.3V399.22H82.25V399.47H83.2V399.59H84.15V396.7H85.1V399.23H86.1V399.98H87.1V398.73H88.1V404.26H89.13V401.2H90.17V405.08H91.2V403.82H92.35V411.04H93.5V414.86H94.53V416.95H95.55V416.77H96.57V417.03H97.6V417.2H98.68V417.82H99.76V418.24H100.84V420.78H101.92V419.89H103V422.5H104.06V421.42H105.12V419.66H106.18V422.06H107.24V420.68H108.3V421.52H109.38V422.16H110.46V421.75H111.54V423.89H112.62V421.34H113.7V421.9H114.78V425.55H115.86V423.99H116.94V424.61H118.02V425.96H119.1V425.6H120.18V425.2H121.26V427.38H122.34V427.38H123.42V426.71H124.5V427H125.58V428.92H126.66V428.74H127.74V429.35H128.82V429.57H129.9V430.6H130.86V430.1H131.81V429.81H132.77V430.17H133.73V431.58H134.69V430.85H135.64V431.91H136.6V431.85H137.56V431.96H138.51V432.01H139.47V432.36H140.43V432.18H141.39V433.31H142.34V432.88H143.3V433.39H144.27V433.01H145.24V433.38H146.21V432.32H147.19V433.56H148.16V433.9H149.13V433.27H150.1V434.27H151.14V434.55H152.19V434.94H153.23V434.8H154.28V435.05H155.32V434.37H156.37V434.74H157.41V434.4H158.46V434.83H159.5V434.3H160.5V434.54H161.5V434.77H162.5V435.05H163.5V435.18H164.5V435.79H165.5V435.8H166.5V435.37H167.5V435.51H168.5V435.4H169.5V434.92H170.5V435.53H171.5V435.97H172.5V435.06H173.5V435.65H174.5V435.25H175.5V435.1H176.5V435.83H177.5V435.83H178.5V436.18H179.5V436.46H180.5V436.03H181.5V436.28H182.5V436.5H183.5V436.29H184.5V436.5" fill="none" stroke="#000" stroke-width="2" stroke-linejoin="miter"/><path d="M25.2 436.8 V351.6 H241.1 V436.8 Z" fill="none" stroke="#000" stroke-width="1.4"/><path d="M25.2 436.8v4.2 M41.37 436.8v2.6 M50.82 436.8v2.6 M57.53 436.8v2.6 M62.73 436.8v2.6 M66.99 436.8v2.6 M70.58 436.8v2.6 M73.7 436.8v2.6 M76.44 436.8v2.6 M78.9 436.8v4.2 M95.07 436.8v2.6 M104.52 436.8v2.6 M111.23 436.8v2.6 M116.43 436.8v2.6 M120.69 436.8v2.6 M124.28 436.8v2.6 M127.4 436.8v2.6 M130.14 436.8v2.6 M132.6 436.8v4.2 M148.77 436.8v2.6 M158.22 436.8v2.6 M164.93 436.8v2.6 M170.13 436.8v2.6 M174.39 436.8v2.6 M177.98 436.8v2.6 M181.1 436.8v2.6 M183.84 436.8v2.6 M186.3 436.8v4.2 M202.47 436.8v2.6 M211.92 436.8v2.6 M218.63 436.8v2.6 M223.83 436.8v2.6 M228.09 436.8v2.6 M231.68 436.8v2.6 M234.8 436.8v2.6 M237.54 436.8v2.6 M240 436.8v4.2 M25.2 436.8h-4.0 M25.2 434.09h-2.5 M25.2 431.37h-2.5 M25.2 428.66h-2.5 M25.2 425.94h-2.5 M25.2 423.23h-4.0 M25.2 420.52h-2.5 M25.2 417.8h-2.5 M25.2 415.09h-2.5 M25.2 412.37h-2.5 M25.2 409.66h-4.0 M25.2 406.95h-2.5 M25.2 404.23h-2.5 M25.2 401.52h-2.5 M25.2 398.8h-2.5 M25.2 396.09h-4.0 M25.2 393.38h-2.5 M25.2 390.66h-2.5 M25.2 387.95h-2.5 M25.2 385.23h-2.5 M25.2 382.52h-4.0 M25.2 379.81h-2.5 M25.2 377.09h-2.5 M25.2 374.38h-2.5 M25.2 371.66h-2.5 M25.2 368.95h-4.0 M25.2 366.24h-2.5 M25.2 363.52h-2.5 M25.2 360.81h-2.5 M25.2 358.09h-2.5 M25.2 355.38h-4.0 M25.2 352.67h-2.5" stroke="#000" stroke-width="1.15"/><text transform="translate(25.6 451.1) scale(0.87 1)" text-anchor="middle" font-size="9.3" class="s">10<tspan dy="-4.6">0</tspan></text><text transform="translate(79.3 451.1) scale(0.87 1)" text-anchor="middle" font-size="9.3" class="s">10<tspan dy="-4.6">1</tspan></text><text transform="translate(133 451.1) scale(0.87 1)" text-anchor="middle" font-size="9.3" class="s">10<tspan dy="-4.6">2</tspan></text><text transform="translate(186.7 451.1) scale(0.87 1)" text-anchor="middle" font-size="9.3" class="s">10<tspan dy="-4.6">3</tspan></text><text transform="translate(240.4 451.1) scale(0.87 1)" text-anchor="middle" font-size="9.3" class="s">10<tspan dy="-4.6">4</tspan></text><text x="133.15" y="460.6" text-anchor="middle" font-size="8.6" class="s">CD83-PE</text><text transform="translate(18.1 436.8) rotate(-90)" text-anchor="middle" font-size="9" class="s">0</text><text transform="translate(18.1 423.23) rotate(-90)" text-anchor="middle" font-size="9" class="s">10</text><text transform="translate(18.1 409.66) rotate(-90)" text-anchor="middle" font-size="9" class="s">20</text><text transform="translate(18.1 396.09) rotate(-90)" text-anchor="middle" font-size="9" class="s">30</text><text transform="translate(18.1 382.52) rotate(-90)" text-anchor="middle" font-size="9" class="s">40</text><text transform="translate(18.1 368.95) rotate(-90)" text-anchor="middle" font-size="9" class="s">50</text><text transform="translate(18.1 355.38) rotate(-90)" text-anchor="middle" font-size="9" class="s">60</text><text transform="translate(7.7 396.3) rotate(-90)" text-anchor="middle" font-size="8.8" class="s">Counts</text></g><g><path d="M34.5 563H35.4V562.4H36.3V562.61H37.2V561.85H38.1V561.99H39.12V561.18H40.13V558.24H41.15V558.07H42.17V555.94H43.18V554.56H44.2V553.95H45.33V550.88H46.45V549.39H47.58V537.69H48.7V540.49H49.62V540.29H50.54V532.75H51.46V530.45H52.38V526.28H53.3V523.78H54.3V525.67H55.3V511.69H56.3V510.64H57.3V510.51H58.3V510.32H59.3V502.8H60.33V494.64H61.37V495.28H62.4V487.63H63.4V482.37H64.4V484.22H65.4V481.73H66.2V483.89H67V479.7H68V482.94H69V479.7H69.85V487.39H70.7V491.25H71.45V498.39H72.2V503.62H73.35V506.45H74.5V516.33H75.65V519.79H76.8V520.71H77.9V527.63H79V532.99H80.15V541.01H81.3V546.73H82.4V550.94H83.5V551.88H84.5V553.01H85.5V556.68H86.5V555.95H87.5V558.2H88.5V557.93H89.5V558.95H90.5V562.46H91.5V561.02H92.5V560.32H93.5V561.42H94.5V562.47H95.5V561.63H96.5V562.29H97.5V561.07H98.5V562.12H99.5V561.9H100.5V563.07H101.5V562.91H102.5V561.66H103.5V561.45H104.5V563.33H105.5V562.24H106.5V563.29H107.5V563.47H108.5V563.96H109.5V563.33H110.5V562.65H111.5V563.11H112.5V562.35H113.5V563.75H114.5V562.35H115.5V562.36H116.5V564.3H117.5V562.84H118.5V563.61H119.5V563.5" fill="none" stroke="#000" stroke-width="1.05" stroke-dasharray="1 1"/><path d="M24.5 563H25.5V561.1H26.5V561.01H27.5V560.86H28.5V558.51H29.5V558.92H30.5V557.87H31.42V558.33H32.34V556.32H33.26V556.62H34.18V556.49H35.1V556.7H36.02V553.66H36.94V554.96H37.86V553.96H38.78V554.2H39.7V551.74H40.83V552.78H41.95V550.33H43.08V547H44.2V549.88H45.2V545.68H46.2V543.19H47.2V541.61H48.35V535.88H49.5V533.53H50.5V527.8H51.5V527.2H52.5V522.23H53.65V521.09H54.8V514.88H55.55V507.99H56.3V505.76H57.45V496.23H58.6V497.01H59.75V491.1H60.9V488.27H62V484.94H63.1V479.7H64.02V480.12H64.94V482.25H65.86V480.03H66.78V480.53H67.7V479.7H68.45V483.8H69.2V485.63H69.95V487.53H70.7V493.19H71.45V493.65H72.2V498.85H73.35V504.22H74.5V512.48H75.65V516.56H76.8V520.93H77.9V528.45H79V534.04H80.15V539.3H81.3V542.45H82.3V549.19H83.3V550.25H84.3V553.51H85.25V555.81H86.2V554.64H87.15V557.34H88.1V558.57H89.17V558.61H90.23V559.97H91.3V559.38H92.37V559.08H93.43V561.28H94.5V561.36H95.5V559.91H96.5V560.49H97.5V561.33H98.5V561.76H99.5V562.28H100.5V562.53H101.5V561.75H102.5V562.09H103.5V563.13H104.5V562.66H105.5V562.5H106.5V562.75H107.5V562.24H108.5V561.95H109.5V562.4H110.5V562.6H111.5V563.29H112.5V564.3H113.5V562.84H114.5V562.74H115.5V562.83H116.5V562.77H117.5V562.9H118.5V563H119.5V562.46H120.5V562.9H121.5V563.02H122.5V563" fill="none" stroke="#111" stroke-width="1" stroke-linejoin="round"/><path d="M24.5 563H25.25V561.09H26V561.46H26.92V560.34H27.84V559.32H28.76V560.44H29.68V558.4H30.6V558.74H31.73V558.29H32.85V558.16H33.98V555.56H35.1V556.12H36.02V555.12H36.94V553.92H37.86V554.23H38.78V554.15H39.7V552.02H40.83V552.27H41.95V550.83H43.08V548.69H44.2V549.57H45.2V543.37H46.2V542.29H47.2V542.31H48.35V538H49.5V536.81H50.5V534.28H51.5V528.69H52.5V525.03H53.65V519.89H54.8V512.98H55.55V512.57H56.3V502.93H57.45V497.38H58.6V496.3H59.75V494.24H60.9V485.33H62V485.29H63.1V482.19H64.25V479.99H65.4V479.7H66.55V479.7H67.7V480.85H68.45V481.46H69.2V483.02H69.95V490.67H70.7V488.04H71.45V494.25H72.2V498.82H73.35V503.39H74.5V510.16H75.65V516.96H76.8V523.3H77.9V526.41H79V533.96H79.5V542.19H80.4V543.2H81.3V545.1H81.8V550.53H82.83V553.5H83.87V555.01H84.9V557.27H85.85V557.53H86.8V557.16H87.75V557.57H88.7V559.29H89.73V559.82H90.77V560.15H91.8V560.99H92.83V560.47H93.87V559.81H94.9V560.9H95.85V561.69H96.8V561.06H97.75V561.18H98.7V562.11H99.65V560.51H100.6V561.36H101.55V561.92H102.5V562.24H103.47V562.22H104.45V562.57H105.42V562.99H106.4V562.08H107.38V562.59H108.35V562.23H109.33V562.38H110.3V562.49H111.32V563.3H112.33V562.55H113.35V563.25H114.37V562.6H115.38V563.17H116.4V562.71H117.42V563.29H118.43V562.89H119.45V561.78H120.47V562.48H121.48V563.21H122.5V562.73H123.48V562.66H124.46V562.69H125.45V562.72H126.43V562.71H127.41V563.27H128.39V563.32H129.37V562.17H130.35V564H131.34V562.77H132.32V562.57H133.3V563" fill="none" stroke="#000" stroke-width="2" stroke-linejoin="miter"/><path d="M25.8 564.6 V479.4 H241.2 V564.6 Z" fill="none" stroke="#000" stroke-width="1.4"/><path d="M25.8 564.6v4.2 M41.94 564.6v2.6 M51.37 564.6v2.6 M58.07 564.6v2.6 M63.26 564.6v2.6 M67.51 564.6v2.6 M71.1 564.6v2.6 M74.21 564.6v2.6 M76.95 564.6v2.6 M79.4 564.6v4.2 M95.54 564.6v2.6 M104.97 564.6v2.6 M111.67 564.6v2.6 M116.86 564.6v2.6 M121.11 564.6v2.6 M124.7 564.6v2.6 M127.81 564.6v2.6 M130.55 564.6v2.6 M133 564.6v4.2 M149.14 564.6v2.6 M158.57 564.6v2.6 M165.27 564.6v2.6 M170.46 564.6v2.6 M174.71 564.6v2.6 M178.3 564.6v2.6 M181.41 564.6v2.6 M184.15 564.6v2.6 M186.6 564.6v4.2 M202.74 564.6v2.6 M212.17 564.6v2.6 M218.87 564.6v2.6 M224.06 564.6v2.6 M228.31 564.6v2.6 M231.9 564.6v2.6 M235.01 564.6v2.6 M237.75 564.6v2.6 M240.2 564.6v4.2 M25.8 564.6h-4.0 M25.8 562.11h-2.5 M25.8 559.62h-2.5 M25.8 557.13h-2.5 M25.8 554.64h-2.5 M25.8 552.15h-4.0 M25.8 549.66h-2.5 M25.8 547.17h-2.5 M25.8 544.68h-2.5 M25.8 542.19h-2.5 M25.8 539.7h-4.0 M25.8 537.21h-2.5 M25.8 534.72h-2.5 M25.8 532.23h-2.5 M25.8 529.74h-2.5 M25.8 527.25h-4.0 M25.8 524.76h-2.5 M25.8 522.27h-2.5 M25.8 519.78h-2.5 M25.8 517.29h-2.5 M25.8 514.8h-4.0 M25.8 512.31h-2.5 M25.8 509.82h-2.5 M25.8 507.33h-2.5 M25.8 504.84h-2.5 M25.8 502.35h-4.0 M25.8 499.86h-2.5 M25.8 497.37h-2.5 M25.8 494.88h-2.5 M25.8 492.39h-2.5 M25.8 489.9h-4.0 M25.8 487.41h-2.5 M25.8 484.92h-2.5 M25.8 482.43h-2.5 M25.8 479.94h-2.5" stroke="#000" stroke-width="1.15"/><text transform="translate(26.2 578.9) scale(0.87 1)" text-anchor="middle" font-size="9.3" class="s">10<tspan dy="-4.6">0</tspan></text><text transform="translate(79.8 578.9) scale(0.87 1)" text-anchor="middle" font-size="9.3" class="s">10<tspan dy="-4.6">1</tspan></text><text transform="translate(133.4 578.9) scale(0.87 1)" text-anchor="middle" font-size="9.3" class="s">10<tspan dy="-4.6">2</tspan></text><text transform="translate(187 578.9) scale(0.87 1)" text-anchor="middle" font-size="9.3" class="s">10<tspan dy="-4.6">3</tspan></text><text transform="translate(240.6 578.9) scale(0.87 1)" text-anchor="middle" font-size="9.3" class="s">10<tspan dy="-4.6">4</tspan></text><text x="133.5" y="588.4" text-anchor="middle" font-size="8.6" class="s">CD83-PE</text><text transform="translate(18.7 564.6) rotate(-90)" text-anchor="middle" font-size="9" class="s">0</text><text transform="translate(18.7 552.15) rotate(-90)" text-anchor="middle" font-size="9" class="s">10</text><text transform="translate(18.7 539.7) rotate(-90)" text-anchor="middle" font-size="9" class="s">20</text><text transform="translate(18.7 527.25) rotate(-90)" text-anchor="middle" font-size="9" class="s">30</text><text transform="translate(18.7 514.8) rotate(-90)" text-anchor="middle" font-size="9" class="s">40</text><text transform="translate(18.7 502.35) rotate(-90)" text-anchor="middle" font-size="9" class="s">50</text><text transform="translate(18.7 489.9) rotate(-90)" text-anchor="middle" font-size="9" class="s">60</text><text transform="translate(8.3 524.4) rotate(-90)" text-anchor="middle" font-size="8.8" class="s">Counts</text></g><g><path d="M319.5 436H320.44V434.66H321.38V434.55H322.32V432.88H323.26V432.81H324.2V432.33H325.23V428.24H326.27V428.82H327.3V426.22H328.22V425.28H329.14V425.5H330.06V425.99H330.98V428.1H331.9V418.64H332.82V424.91H333.74V426.57H334.66V420.71H335.58V420.23H336.5V417.89H337.5V414.93H338.5V418.1H339.5V404.35H340.57V407.15H341.63V410.69H342.7V413.95H343.7V407.45H344.7V399.62H345.7V400.87H346.73V393.95H347.77V388.98H348.8V391.68H349.83V391.82H350.87V394.69H351.9V390.17H352.93V393.66H353.97V385.44H355V395.37H356V391.96H357V391.17H358V388.33H359.03V386.67H360.07V394.67H361.1V393.68H362.13V385.95H363.17V387.12H364.2V385.61H365.23V387.93H366.27V386.57H367.3V384.23H368.3V373.04H369.3V368.31H370.3V373.33H371.33V366.42H372.37V372.36H373.4V366.64H374.1V370.13H375.02V385.51H375.94V373.83H376.86V365.66H377.78V368.56H378.7V371.68H379.62V365.51H380.54V369.76H381.46V360.09H382.38V367.29H383.3V364.55H384.24V372.02H385.18V368.46H386.12V355.17H387.06V351.8H388V365.7H389V352.85H390V360.54H391V359.94H391.94V364.53H392.88V357.65H393.82V351.8H394.76V354.31H395.7V351.8H396.62V362.13H397.54V351.8H398.46V351.8H399.38V374.39H400.3V357.01H401.22V366.43H402.14V379.2H403.06V370.02H403.98V368.85H404.9V370.52H405.93V371.48H406.97V374.63H408V377.33H409V391.84H410V383.56H411V384.34H412.03V381.56H413.07V384.86H414.1V385.19H415.13V381.83H416.17V384.03H417.2V396.87H418.23V391.44H419.27V394.94H420.3V391.2H421.3V391.61H422.3V393.24H423.3V389.02H424.33V395.28H425.37V396.9H426.4V398.42H427.32V400.38H428.24V396.46H429.16V401.02H430.08V407.06H431V404.85H431.94V398.97H432.88V401.69H433.82V409.5H434.76V412.53H435.7V397.57H436.62V406.23H437.54V412.68H438.46V411.8H439.38V413.86H440.3V415.46H441.3V412.03H442.3V413.75H443.3V416.19H444.35V421.75H445.4V420.91H446.45V419.73H447.5V425.07H448.5V423.99H449.5V428.04H450.5V425.31H451.5V426.2H452.5V424.83H453.5V425.43H454.5V432.14H455.5V432.34H456.5V429.95H457.5V432.2H458.5V431.27H459.5V431.03H460.5V431.55H461.5V432.7H462.5V432.91H463.5V433.33H464.5V433.68H465.5V433.56H466.5V434.58H467.5V436.7H468.5V435.9H469.5V435.8H470.5V436.24H471.5V436" fill="none" stroke="#000" stroke-width="1.05" stroke-dasharray="1 1"/><path d="M327.3 436H328.35V434.97H329.4V435.73H330.45V435.83H331.5V433.76H332.5V435.25H333.5V435.41H334.5V436.4H335.5V435.35H336.5V435.59H337.5V435.26H338.5V435.22H339.5V432.98H340.53V434.38H341.57V433.96H342.6V434.52H343.63V432.92H344.67V434.39H345.7V433.06H346.62V429.98H347.54V432.34H348.46V429.42H349.38V428.06H350.3V427.56H351.24V424.93H352.18V425.45H353.12V422.83H354.06V424.56H355V422.68H355.92V424.74H356.84V422.76H357.76V420.26H358.68V421.37H359.6V416.3H360.63V419.3H361.67V416.62H362.7V416.29H363.62V415.79H364.54V413.41H365.46V413.63H366.38V414.72H367.3V412.47H368.4V411.89H369.5V410.24H370.53V410.68H371.57V409.26H372.6V406.98H373.63V407.01H374.67V400.49H375.7V398.64H376.7V395.29H377.7V395.6H378.7V390.47H379.62V386.03H380.54V386.44H381.46V383.68H382.38V383.23H383.3V378.12H384.24V385.39H385.18V378.24H386.12V377.08H387.06V378H388V365.63H388.92V368.22H389.84V364.55H390.76V360.72H391.68V364.19H392.6V356.64H393.52V351.96H394.44V363.02H395.36V360.85H396.28V351.8H397.2V351.8H398.22V354.97H399.23V356.31H400.25V358.47H401.27V358.56H402.28V351.8H403.3V351.8H404.33V361.19H405.37V358.29H406.4V358.12H407.43V360.12H408.47V355.25H409.5V352.4H410.42V356.22H411.34V357.89H412.26V364.07H413.18V373.96H414.1V359.38H415.02V356.94H415.94V356.39H416.86V354.31H417.78V354.08H418.7V353.63H419.73V351.8H420.77V353.13H421.8V354.64H422.83V355.56H423.87V358.67H424.9V362.65H425.93V359.43H426.97V366.29H428V358.16H429V368.64H430V364.6H431V370.99H432.03V377.72H433.07V382.72H434.1V376.58H435.13V379.95H436.17V386.47H437.2V384.41H438.23V389.81H439.27V390.26H440.3V396.26H441.3V400.06H442.3V398.67H443.3V410.43H444.33V407.98H445.37V412.11H446.4V414.53H447.27V415.49H448.15V411.8H449.02V416.72H449.9V421.35H450.92V421.21H451.93V419.1H452.95V422.79H453.97V426.08H454.98V428.83H456V426.31H457.03V428.6H458.07V429.3H459.1V428.92H460.13V430.27H461.17V430.31H462.2V431.17H463.23V432.45H464.27V429.69H465.3V433.45H466.32V433.06H467.34V433.05H468.37V433.86H469.39V434.57H470.41V434.07H471.43V433.28H472.46V434.26H473.48V432.53H474.5V434.62H475.5V435.68H476.5V436.1H477.5V436" fill="none" stroke="#111" stroke-width="1" stroke-linejoin="round"/><path d="M302.7 435.7H303.7V434.34H304.7V434.64H305.7V433.38H306.73V432.15H307.77V432.67H308.8V430.55H309.72V431.36H310.64V431.58H311.56V432.03H312.48V430.75H313.4V431.68H314.32V431.23H315.24V430.65H316.16V431.04H317.08V431.16H318V430H318.94V430.39H319.88V429.73H320.82V428.66H321.76V429.4H322.7V426.64H323.7V425.77H324.7V425.59H325.7V423.31H326.73V422.89H327.77V421.65H328.8V418.6H329.83V416.69H330.87V415.27H331.9V412.83H333.05V414.03H334.2V410.07H335.15V409.97H336.1V412.15H337.05V413.36H338V411.3H338.94V413.06H339.88V413.36H340.82V412.53H341.76V412.35H342.7V410.8H343.85V410.05H345V406.38H345.95V406.96H346.9V410.07H347.85V407.95H348.8V409.55H349.83V408.03H350.87V405.62H351.9V404.49H352.93V403.91H353.97V403.06H355V399.61H356.15V392.2H357.3V388.47H358.45V394.63H359.6V401.91H360.35V397.93H361.1V394.84H362.13V397.64H363.17V401.67H364.2V404.42H365.23V400.86H366.27V398.54H367.3V399H368.3V398.08H369.3V396.75H370.3V396.71H371.33V394.49H372.37V391.76H373.4V393.78H374.55V393.58H375.7V389.15H376.7V387.38H377.7V388.34H378.7V380.54H379.73V381.25H380.77V381.07H381.8V380.03H382.83V378.26H383.87V378.07H384.9V378.26H385.93V371.96H386.97V372.04H388V368.09H389V367.07H390V365.88H391V368.39H392.03V363.62H393.07V366.14H394.1V361.79H395.25V367.73H396.4V368.54H397.55V366.5H398.7V359.53H399.8V351.8H401V355.37H401.75V365.89H402.5V370.25H403.3V373.02H404.1V376.3H404.9V377.43H405.7V378.45H406.55V378.49H407.4V376.17H408.2V368.18H409V375.41H409.85V366.69H410.7V363.35H411.5V365.25H412.3V363.53H413.15V366.9H414V368.56H414.8V368.78H415.6V364.4H416.45V364.15H417.3V368.53H418.1V370H418.9V371.68H419.7V377.38H420.5V376.05H421.35V375.95H422.2V374.41H423V380.43H423.8V381.75H424.65V382.15H425.5V384.46H426.75V383.1H428V382.29H429.2V386.53H430.4V390.45H431.5V388.61H432.6V390.15H433.7V390.86H434.8V390.86H435.9V394.2H437V397.1H438.05V394.69H439.1V401.34H440.13V402.7H441.17V404.86H442.2V408.62H443.23V410.36H444.27V413.12H445.3V416.04H446.3V416.55H447.3V418.69H448.3V420.4H449.33V420.09H450.37V422.32H451.4V423.51H452.43V427.35H453.47V427.21H454.5V428.23H455.42V429.37H456.34V429.85H457.26V431.73H458.18V431.87H459.1V432.39H460.02V433.07H460.94V432.56H461.86V433.12H462.78V433.78H463.7V433.44H464.62V434.08H465.54V434.52H466.46V434.69H467.38V435.26H468.3V435.02H469.24V436.31H470.18V434.6H471.12V434.93H472.06V435.38H473V434.2H474.25V435.63H475.5V436.5" fill="none" stroke="#000" stroke-width="2" stroke-linejoin="miter"/><path d="M297.8 437 V351.5 H512.9 V437 Z" fill="none" stroke="#000" stroke-width="1.4"/><path d="M297.8 437v4.2 M313.91 437v2.6 M323.33 437v2.6 M330.01 437v2.6 M335.19 437v2.6 M339.43 437v2.6 M343.01 437v2.6 M346.12 437v2.6 M348.85 437v2.6 M351.3 437v4.2 M367.41 437v2.6 M376.83 437v2.6 M383.51 437v2.6 M388.69 437v2.6 M392.93 437v2.6 M396.51 437v2.6 M399.62 437v2.6 M402.35 437v2.6 M404.8 437v4.2 M420.91 437v2.6 M430.33 437v2.6 M437.01 437v2.6 M442.19 437v2.6 M446.43 437v2.6 M450.01 437v2.6 M453.12 437v2.6 M455.85 437v2.6 M458.3 437v4.2 M474.41 437v2.6 M483.83 437v2.6 M490.51 437v2.6 M495.69 437v2.6 M499.93 437v2.6 M503.51 437v2.6 M506.62 437v2.6 M509.35 437v2.6 M511.8 437v4.2 M297.8 437h-4.0 M297.8 431.99h-2.5 M297.8 426.99h-2.5 M297.8 421.98h-2.5 M297.8 416.98h-2.5 M297.8 411.97h-4.0 M297.8 406.96h-2.5 M297.8 401.96h-2.5 M297.8 396.95h-2.5 M297.8 391.95h-2.5 M297.8 386.94h-4.0 M297.8 381.93h-2.5 M297.8 376.93h-2.5 M297.8 371.92h-2.5 M297.8 366.92h-2.5 M297.8 361.91h-4.0 M297.8 356.9h-2.5 M297.8 351.9h-2.5" stroke="#000" stroke-width="1.15"/><text transform="translate(298.2 451.3) scale(0.87 1)" text-anchor="middle" font-size="9.3" class="s">10<tspan dy="-4.6">0</tspan></text><text transform="translate(351.7 451.3) scale(0.87 1)" text-anchor="middle" font-size="9.3" class="s">10<tspan dy="-4.6">1</tspan></text><text transform="translate(405.2 451.3) scale(0.87 1)" text-anchor="middle" font-size="9.3" class="s">10<tspan dy="-4.6">2</tspan></text><text transform="translate(458.7 451.3) scale(0.87 1)" text-anchor="middle" font-size="9.3" class="s">10<tspan dy="-4.6">3</tspan></text><text transform="translate(512.2 451.3) scale(0.87 1)" text-anchor="middle" font-size="9.3" class="s">10<tspan dy="-4.6">4</tspan></text><text x="405.35" y="460.8" text-anchor="middle" font-size="8.6" class="s">CD40-PE</text><text transform="translate(290.7 437) rotate(-90)" text-anchor="middle" font-size="9" class="s">0</text><text transform="translate(290.7 411.97) rotate(-90)" text-anchor="middle" font-size="9" class="s">10</text><text transform="translate(290.7 386.94) rotate(-90)" text-anchor="middle" font-size="9" class="s">20</text><text transform="translate(290.7 361.91) rotate(-90)" text-anchor="middle" font-size="9" class="s">30</text><text transform="translate(280.3 397.1) rotate(-90)" text-anchor="middle" font-size="8.8" class="s">Counts</text></g><g><path d="M322.5 561.5H323.45V558.55H324.4V558.01H325.35V553.98H326.3V556.3H327.27V554.95H328.25V554.16H329.23V554.84H330.2V549.96H331.16V551.56H332.12V550.12H333.08V547.42H334.04V547.18H335V546.58H335.95V545.46H336.9V539.49H337.85V543.29H338.8V538.7H339.77V539.56H340.73V537.84H341.7V538.15H342.77V537.32H343.83V529.51H344.9V531.4H345.86V524.67H346.82V529.72H347.79V529.81H348.75V520.45H349.71V524.03H350.68V521.66H351.64V525.89H352.6V530.24H353.62V521.31H354.63V518.91H355.65V522.52H356.67V518.51H357.68V514.96H358.7V516.5H359.73V509.08H360.77V516.55H361.8V513.75H362.83V508.78H363.87V511.42H364.9V523.79H365.92V507.58H366.93V522H367.95V514.75H368.97V507.98H369.98V505.16H371V510.02H371.94V506.27H372.88V499.52H373.82V503.52H374.76V500.01H375.7V502.16H376.62V504.13H377.54V491.25H378.46V493.5H379.38V483.3H380.3V487.22H381.3V485.15H382.3V480.18H383.3V485.86H384.24V483.32H385.18V480.08H386.12V487.33H387.06V479.8H388V480.63H388.92V488.41H389.84V479.8H390.76V486.93H391.68V479.81H392.6V482.57H393.58V490.05H394.55V485.3H395.52V488.85H396.5V487.23H397.5V498.4H398.5V495.24H399.5V495.12H400.5V492.91H401.5V500.29H402.5V503.68H403.57V509.89H404.63V509.33H405.7V513.12H406.62V504.13H407.54V516.13H408.46V518.61H409.38V515.65H410.3V521.4H411.22V523.16H412.14V526.39H413.06V521.05H413.98V526.03H414.9V532.54H415.82V542.24H416.74V536.58H417.66V535.28H418.58V537.93H419.5V538.89H420.53V537.22H421.57V541.94H422.6V538.53H423.63V542.18H424.67V542.11H425.7V543.26H426.62V547.15H427.54V552.13H428.46V548.26H429.38V549.25H430.3V550.54H431.32V551.34H432.33V553.1H433.35V550.97H434.37V551.5H435.38V558.52H436.4V555.26H437.43V553.72H438.47V553.37H439.5V556.78H440.53V558.36H441.57V558.05H442.6V559.45H443.62V559.9H444.64V560.27H445.67V560.11H446.69V561.62H447.71V559.75H448.73V561.15H449.76V561.28H450.78V563H451.8V561.52H452.75V562.01H453.7V561.95H454.65V562.99H455.6V562.59H456.55V562.5H457.5V563" fill="none" stroke="#000" stroke-width="1.05" stroke-dasharray="1 1"/><path d="M315.7 561.5H316.66V561.08H317.62V560.79H318.58V561.2H319.54V560.49H320.5V562.02H321.46V561.04H322.42V560.94H323.38V561.27H324.34V560.95H325.3V561.65H326.27V561.37H327.25V560.97H328.23V559.4H329.2V559.65H330.33V557.86H331.47V556.5H332.6V558.38H334V559.3H334.97V556.14H335.93V556.73H336.9V554.05H337.85V553.76H338.8V549.92H339.75V552.61H340.7V554.38H341.8V548.45H342.83V546.28H343.87V543.65H344.9V539.61H345.93V538.98H346.97V538.01H348V539.61H349V536.39H350V538.19H351V547.74H352.03V544.46H353.07V539.03H354.1V535.58H355.13V536.82H356.17V531.94H357.2V529.03H358.23V532.02H359.27V527.89H360.3V529.85H361.32V529H362.33V526.5H363.35V525.48H364.37V524.68H365.38V521.1H366.4V521.97H367.32V522.77H368.24V527.05H369.16V520.63H370.08V513.85H371V516.45H371.94V523.9H372.88V511.25H373.82V506.4H374.76V515.17H375.7V504.97H376.62V506.12H377.54V502.68H378.46V503.67H379.38V500.62H380.3V503.69H381.22V500.02H382.14V495.97H383.06V488.59H383.98V498.19H384.9V490.75H385.82V484.14H386.74V490.45H387.66V489.53H388.58V497.99H389.5V483.58H390.42V489.81H391.34V492H392.26V486.56H393.18V488.13H394.1V483.6H395.02V487.3H395.94V479.8H396.86V485.92H397.78V490.19H398.7V501.15H399.62V494.86H400.54V490.46H401.46V490.89H402.38V491.99H403.3V495.41H404.24V497.46H405.18V497.53H406.12V499.95H407.06V500.78H408V502.09H408.7V514.7H409.73V504.48H410.77V507.23H411.8V512.84H412.83V510.73H413.87V513.96H414.9V517.96H415.82V515.3H416.74V517.96H417.66V519.8H418.58V519.3H419.5V515.3H420.42V513.97H421.34V519.89H422.26V521.9H423.18V523.85H424.1V530.2H425.13V524.43H426.17V526.31H427.2V533.24H428.23V539.06H429.27V537.13H430.3V536.7H431.22V539.35H432.14V538.4H433.06V541.63H433.98V547.27H434.9V548.19H435.82V551.69H436.74V550.74H437.66V548H438.58V550.91H439.5V552.44H440.53V555.31H441.57V554.58H442.6V554.17H443.63V555.3H444.67V556.74H445.7V556.56H446.72V557.75H447.73V558.11H448.75V559.24H449.77V558.4H450.78V559.55H451.8V560.26H452.75V560.44H453.7V560.07H454.65V559.11H455.6V560.33H456.55V559.86H457.5V561.74H458.5V561.39H459.5V561.08H460.25V560.88H461V562.9" fill="none" stroke="#111" stroke-width="1" stroke-linejoin="round"/><path d="M312.8 561.5H313.77V561.35H314.73V560.78H315.7V559.78H316.67V559.47H317.63V558.41H318.6V558.42H319.57V557.75H320.53V558.21H321.5V558.77H322.47V558.9H323.43V557.4H324.4V557.3H325.35V556.39H326.3V553.54H327.25V551.15H328.2V553.41H329.5V556.07H330.3V553.23H331.1V551.71H332.05V549.55H333V547.46H333.97V545.9H334.93V548.3H335.9V545.26H336.85V539.47H337.8V536.11H338.77V540.54H339.73V543.72H340.7V544.22H341.8V540.68H342.7V538.87H343.6V536.03H344.9V530.23H345.93V533.85H346.97V535.66H348V525.67H349V530.1H350V526.72H351V525.35H352.03V531.25H353.07V530.29H354.1V530.73H355.13V530.48H356.17V532.59H357.2V532.47H358.23V529.05H359.27V527.13H360.3V535.85H361.3V524.86H362.3V525.23H363.3V521.83H364.33V521.93H365.37V522.19H366.4V521.39H367.43V521.73H368.47V514.22H369.5V517.16H370.53V517.14H371.57V507.98H372.6V508.86H373.63V516.19H374.67V512.74H375.7V511.43H376.45V508.59H377.2V504.03H378.23V499.49H379.27V504.65H380.3V505.3H381.3V496.16H382.3V492.6H383.3V494.62H384.33V491.09H385.37V503.01H386.4V502.49H387.43V496.5H388.47V490.74H389.5V488.81H390.53V486.67H391.57V490.31H392.6V499.59H393.35V502.04H394.1V499.29H394.9V495.5H395.7V493.3H396.45V486.17H397.2V479.8H397.95V479.8H398.7V482.31H399.5V489.36H400.3V500.45H401.3V498.64H402.3V488.74H403.3V489.05H404.1V499.62H404.9V500.41H406.05V497.92H407.2V510.5H408.23V515.74H409.27V514.11H410.3V516.16H411.22V523.04H412.14V522.7H413.06V521.03H413.98V522.36H414.9V527.68H415.82V524.91H416.74V527.44H417.66V524.06H418.58V527.51H419.5V523.79H420.42V535.16H421.34V532.16H422.26V536.57H423.18V534.93H424.1V534.11H425.02V539.78H425.94V538.33H426.86V539.84H427.78V540.52H428.7V544.08H429.62V540.83H430.54V541.61H431.46V545.99H432.38V546.2H433.3V548.28H434.24V548.07H435.18V551.58H436.12V550.81H437.06V551.31H438V551.33H438.92V551.49H439.84V553.86H440.76V553.31H441.68V554.22H442.6V555.63H443.52V556.55H444.44V556.4H445.36V558.1H446.28V559.86H447.2V560.38H448.23V560.61H449.27V561.64H450.3V562.9" fill="none" stroke="#000" stroke-width="2" stroke-linejoin="miter"/><path d="M298.2 563.3 V479.5 H513.1 V563.3 Z" fill="none" stroke="#000" stroke-width="1.4"/><path d="M298.2 563.3v4.2 M314.31 563.3v2.6 M323.74 563.3v2.6 M330.43 563.3v2.6 M335.61 563.3v2.6 M339.85 563.3v2.6 M343.43 563.3v2.6 M346.54 563.3v2.6 M349.28 563.3v2.6 M351.72 563.3v4.2 M367.84 563.3v2.6 M377.26 563.3v2.6 M383.95 563.3v2.6 M389.14 563.3v2.6 M393.38 563.3v2.6 M396.96 563.3v2.6 M400.06 563.3v2.6 M402.8 563.3v2.6 M405.25 563.3v4.2 M421.36 563.3v2.6 M430.79 563.3v2.6 M437.48 563.3v2.6 M442.66 563.3v2.6 M446.9 563.3v2.6 M450.48 563.3v2.6 M453.59 563.3v2.6 M456.33 563.3v2.6 M458.77 563.3v4.2 M474.89 563.3v2.6 M484.31 563.3v2.6 M491 563.3v2.6 M496.19 563.3v2.6 M500.43 563.3v2.6 M504.01 563.3v2.6 M507.11 563.3v2.6 M509.85 563.3v2.6 M512.3 563.3v4.2 M298.2 563.3h-4.0 M298.2 558.48h-2.5 M298.2 553.66h-2.5 M298.2 548.84h-2.5 M298.2 544.02h-2.5 M298.2 539.2h-4.0 M298.2 534.38h-2.5 M298.2 529.56h-2.5 M298.2 524.74h-2.5 M298.2 519.92h-2.5 M298.2 515.1h-4.0 M298.2 510.28h-2.5 M298.2 505.46h-2.5 M298.2 500.64h-2.5 M298.2 495.82h-2.5 M298.2 491h-4.0 M298.2 486.18h-2.5 M298.2 481.36h-2.5" stroke="#000" stroke-width="1.15"/><text transform="translate(298.6 577.6) scale(0.87 1)" text-anchor="middle" font-size="9.3" class="s">10<tspan dy="-4.6">0</tspan></text><text transform="translate(352.12 577.6) scale(0.87 1)" text-anchor="middle" font-size="9.3" class="s">10<tspan dy="-4.6">1</tspan></text><text transform="translate(405.65 577.6) scale(0.87 1)" text-anchor="middle" font-size="9.3" class="s">10<tspan dy="-4.6">2</tspan></text><text transform="translate(459.17 577.6) scale(0.87 1)" text-anchor="middle" font-size="9.3" class="s">10<tspan dy="-4.6">3</tspan></text><text transform="translate(512.7 577.6) scale(0.87 1)" text-anchor="middle" font-size="9.3" class="s">10<tspan dy="-4.6">4</tspan></text><text x="405.65" y="587.1" text-anchor="middle" font-size="8.6" class="s">CD40-PE</text><text transform="translate(291.1 563.3) rotate(-90)" text-anchor="middle" font-size="9" class="s">0</text><text transform="translate(291.1 539.2) rotate(-90)" text-anchor="middle" font-size="9" class="s">10</text><text transform="translate(291.1 515.1) rotate(-90)" text-anchor="middle" font-size="9" class="s">20</text><text transform="translate(291.1 491) rotate(-90)" text-anchor="middle" font-size="9" class="s">30</text><text transform="translate(280.7 524.3) rotate(-90)" text-anchor="middle" font-size="8.8" class="s">Counts</text></g><text x="0.9" y="21.3" font-size="27.6" font-weight="bold">A</text><text x="271.6" y="21.6" font-size="27.6" font-weight="bold">B</text><text x="-0.2" y="330.3" font-size="27.6" font-weight="bold">C</text><text x="271.6" y="330.5" font-size="27.6" font-weight="bold">D</text><text x="41.6" y="21.3" font-size="18.5" font-weight="bold">CD40 stimulation</text><text x="314.2" y="21.3" font-size="18.5" font-weight="bold">PMA+ionomycin</text><text x="49.0" y="330.3" font-size="18.5" font-weight="bold">Control</text><text x="321.2" y="331.6" font-size="18.4" font-weight="bold">Surface CD40</text><text x="32.8" y="288.0" font-size="19" font-weight="bold">+ SR</text><text x="291.2" y="287.7" font-size="19" font-weight="bold">+ SR</text><text x="33.4" y="604.8" font-size="19" font-weight="bold">+ SR</text><text x="298.8" y="604.8" font-size="19" font-weight="bold">+ SR</text></svg>
</body></html>
